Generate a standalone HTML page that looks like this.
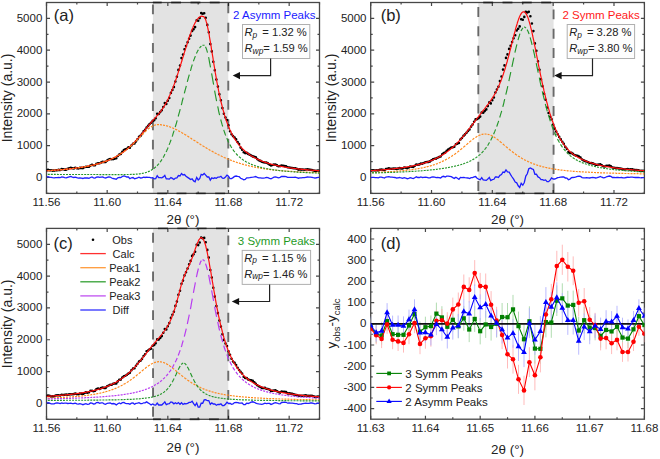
<!DOCTYPE html>
<html><head><meta charset="utf-8"><style>
html,body{margin:0;padding:0;background:#fff;width:660px;height:459px;overflow:hidden}
svg{display:block}
text{font-family:"Liberation Sans", sans-serif;fill:#222}
.tl{font-size:11.5px}
.at{font-size:13.4px}
.yl{font-size:14px}
.pl{font-size:16.5px}
.tt{font-size:11.5px}
.lg{font-size:11px}
.sub{font-size:9.5px}
.sub2{font-size:8.4px}
.rt{font-size:11.2px}
</style></head><body>
<svg width="660" height="459" viewBox="0 0 660 459">
<rect width="660" height="459" fill="#fff"/>
<rect x="152.9" y="2.5" width="75.4" height="190.9" fill="#e3e3e3"/>
<rect x="478.3" y="2.5" width="75.3" height="190.9" fill="#e3e3e3"/>
<rect x="153" y="228.4" width="75.3" height="190.9" fill="#e3e3e3"/>
<path d="M76.83 193.4v-2M76.83 2.5v2M137.5 193.4v-2M137.5 2.5v2M198.17 193.4v-2M198.17 2.5v2M258.83 193.4v-2M258.83 2.5v2M319.5 193.4v-2M319.5 2.5v2M46.5 193.4v-3.5M46.5 2.5v3.5M107.17 193.4v-3.5M107.17 2.5v3.5M167.83 193.4v-3.5M167.83 2.5v3.5M228.5 193.4v-3.5M228.5 2.5v3.5M289.17 193.4v-3.5M289.17 2.5v3.5M46.5 161.58h2M319.5 161.58h-2M46.5 129.77h2M319.5 129.77h-2M46.5 97.95h2M319.5 97.95h-2M46.5 66.13h2M319.5 66.13h-2M46.5 34.32h2M319.5 34.32h-2M46.5 193.4h2M319.5 193.4h-2M46.5 177.49h3.5M319.5 177.49h-3.5M46.5 145.68h3.5M319.5 145.68h-3.5M46.5 113.86h3.5M319.5 113.86h-3.5M46.5 82.04h3.5M319.5 82.04h-3.5M46.5 50.22h3.5M319.5 50.22h-3.5M46.5 18.41h3.5M319.5 18.41h-3.5" stroke="#474747" stroke-width="1.2" fill="none"/>
<rect x="46.5" y="2.5" width="273" height="190.9" stroke="#474747" stroke-width="1.3" fill="none"/>
<text x="46.5" y="206.3" text-anchor="middle" class="tl">11.56</text>
<text x="107.17" y="206.3" text-anchor="middle" class="tl">11.60</text>
<text x="167.83" y="206.3" text-anchor="middle" class="tl">11.64</text>
<text x="228.5" y="206.3" text-anchor="middle" class="tl">11.68</text>
<text x="289.17" y="206.3" text-anchor="middle" class="tl">11.72</text>
<text x="42.3" y="180.99" text-anchor="end" class="tl">0</text>
<text x="42.3" y="149.18" text-anchor="end" class="tl">1000</text>
<text x="42.3" y="117.36" text-anchor="end" class="tl">2000</text>
<text x="42.3" y="85.54" text-anchor="end" class="tl">3000</text>
<text x="42.3" y="53.72" text-anchor="end" class="tl">4000</text>
<text x="42.3" y="21.91" text-anchor="end" class="tl">5000</text>
<path d="M152.9 2.5H228.3V193.4H152.9Z" fill="none" stroke="#000" stroke-opacity="0.56" stroke-width="1.9" stroke-dasharray="9.9 9.43" stroke-dashoffset="1.1"/>
<path d="M401.11 193.4v-2M401.11 2.5v2M461.93 193.4v-2M461.93 2.5v2M522.76 193.4v-2M522.76 2.5v2M583.58 193.4v-2M583.58 2.5v2M644.4 193.4v-2M644.4 2.5v2M370.7 193.4v-3.5M370.7 2.5v3.5M431.52 193.4v-3.5M431.52 2.5v3.5M492.34 193.4v-3.5M492.34 2.5v3.5M553.17 193.4v-3.5M553.17 2.5v3.5M613.99 193.4v-3.5M613.99 2.5v3.5M370.7 161.58h2M644.4 161.58h-2M370.7 129.77h2M644.4 129.77h-2M370.7 97.95h2M644.4 97.95h-2M370.7 66.13h2M644.4 66.13h-2M370.7 34.32h2M644.4 34.32h-2M370.7 193.4h2M644.4 193.4h-2M370.7 177.49h3.5M644.4 177.49h-3.5M370.7 145.68h3.5M644.4 145.68h-3.5M370.7 113.86h3.5M644.4 113.86h-3.5M370.7 82.04h3.5M644.4 82.04h-3.5M370.7 50.22h3.5M644.4 50.22h-3.5M370.7 18.41h3.5M644.4 18.41h-3.5" stroke="#474747" stroke-width="1.2" fill="none"/>
<rect x="370.7" y="2.5" width="273.7" height="190.9" stroke="#474747" stroke-width="1.3" fill="none"/>
<text x="370.7" y="206.3" text-anchor="middle" class="tl">11.56</text>
<text x="431.52" y="206.3" text-anchor="middle" class="tl">11.60</text>
<text x="492.34" y="206.3" text-anchor="middle" class="tl">11.64</text>
<text x="553.17" y="206.3" text-anchor="middle" class="tl">11.68</text>
<text x="613.99" y="206.3" text-anchor="middle" class="tl">11.72</text>
<text x="366.5" y="180.99" text-anchor="end" class="tl">0</text>
<text x="366.5" y="149.18" text-anchor="end" class="tl">1000</text>
<text x="366.5" y="117.36" text-anchor="end" class="tl">2000</text>
<text x="366.5" y="85.54" text-anchor="end" class="tl">3000</text>
<text x="366.5" y="53.72" text-anchor="end" class="tl">4000</text>
<text x="366.5" y="21.91" text-anchor="end" class="tl">5000</text>
<path d="M478.3 193.4V2.5H553.6V193.4Z" fill="none" stroke="#000" stroke-opacity="0.56" stroke-width="1.9" stroke-dasharray="9.9 9.43" stroke-dashoffset="16.83"/>
<path d="M76.83 419.3v-2M76.83 228.4v2M137.5 419.3v-2M137.5 228.4v2M198.17 419.3v-2M198.17 228.4v2M258.83 419.3v-2M258.83 228.4v2M319.5 419.3v-2M319.5 228.4v2M46.5 419.3v-3.5M46.5 228.4v3.5M107.17 419.3v-3.5M107.17 228.4v3.5M167.83 419.3v-3.5M167.83 228.4v3.5M228.5 419.3v-3.5M228.5 228.4v3.5M289.17 419.3v-3.5M289.17 228.4v3.5M46.5 387.48h2M319.5 387.48h-2M46.5 355.67h2M319.5 355.67h-2M46.5 323.85h2M319.5 323.85h-2M46.5 292.03h2M319.5 292.03h-2M46.5 260.22h2M319.5 260.22h-2M46.5 419.3h2M319.5 419.3h-2M46.5 403.39h3.5M319.5 403.39h-3.5M46.5 371.57h3.5M319.5 371.57h-3.5M46.5 339.76h3.5M319.5 339.76h-3.5M46.5 307.94h3.5M319.5 307.94h-3.5M46.5 276.12h3.5M319.5 276.12h-3.5M46.5 244.31h3.5M319.5 244.31h-3.5" stroke="#474747" stroke-width="1.2" fill="none"/>
<rect x="46.5" y="228.4" width="273" height="190.9" stroke="#474747" stroke-width="1.3" fill="none"/>
<text x="46.5" y="432.2" text-anchor="middle" class="tl">11.56</text>
<text x="107.17" y="432.2" text-anchor="middle" class="tl">11.60</text>
<text x="167.83" y="432.2" text-anchor="middle" class="tl">11.64</text>
<text x="228.5" y="432.2" text-anchor="middle" class="tl">11.68</text>
<text x="289.17" y="432.2" text-anchor="middle" class="tl">11.72</text>
<text x="42.3" y="406.89" text-anchor="end" class="tl">0</text>
<text x="42.3" y="375.07" text-anchor="end" class="tl">1000</text>
<text x="42.3" y="343.26" text-anchor="end" class="tl">2000</text>
<text x="42.3" y="311.44" text-anchor="end" class="tl">3000</text>
<text x="42.3" y="279.62" text-anchor="end" class="tl">4000</text>
<text x="42.3" y="247.81" text-anchor="end" class="tl">5000</text>
<path d="M153 419.3V228.4H228.3V419.3Z" fill="none" stroke="#000" stroke-opacity="0.56" stroke-width="1.9" stroke-dasharray="9.9 9.43" stroke-dashoffset="16.73"/>
<clipPath id="clipa"><rect x="46.5" y="2.5" width="273.0" height="190.9"/></clipPath>
<clipPath id="clipb"><rect x="370.7" y="2.5" width="273.7" height="190.9"/></clipPath>
<clipPath id="clipc"><rect x="46.5" y="228.4" width="273.0" height="190.9"/></clipPath>
<g clip-path="url(#clipa)">
<path d="M46.5 177.2 48.0 176.7 49.5 177.1 51.1 177.4 52.6 177.7 54.1 177.8 55.6 177.6 57.1 177.6 58.6 177.5 60.2 177.7 61.7 176.9 63.2 177.2 64.7 177.7 66.2 177.8 67.7 177.3 69.2 176.8 70.8 176.5 72.3 177.2 73.8 177.5 75.3 177.1 76.8 177.7 78.3 178.1 79.9 177.8 81.4 178.1 82.9 178.5 84.4 178.0 85.9 177.8 87.4 178.0 89.0 178.4 90.5 177.5 92.0 177.0 93.5 177.8 95.0 178.1 96.5 177.1 98.1 176.9 99.6 177.4 101.1 177.1 102.6 177.0 104.1 177.6 105.6 178.0 107.2 177.3 108.7 176.8 110.2 177.0 111.7 178.0 113.2 178.5 114.8 178.8 116.3 179.2 117.8 177.8 119.3 177.3 120.8 177.6 122.3 176.5 123.9 175.9 125.4 176.3 126.9 177.0 128.4 177.0 129.9 178.7 131.4 177.8 133.0 177.5 134.5 178.8 136.0 178.3 137.5 177.8 139.0 177.2 140.5 178.0 142.0 177.8 143.6 177.1 145.1 177.5 146.6 177.1 148.1 177.3 149.6 177.3 151.1 177.8 152.7 177.7 154.2 178.8 155.7 178.6 157.2 175.8 158.7 177.7 160.2 177.7 161.8 177.8 163.3 176.9 164.8 175.4 166.3 178.9 167.8 178.8 169.3 179.1 170.9 177.6 172.4 178.4 173.9 179.5 175.4 178.1 176.9 177.8 178.4 175.6 180.0 176.0 181.5 173.5 183.0 175.0 184.5 174.6 186.0 176.3 187.6 177.4 189.1 178.4 190.6 179.6 192.1 178.9 193.6 180.9 195.1 181.8 196.7 177.4 198.2 179.9 199.7 178.6 201.2 174.3 202.7 175.0 204.2 173.5 205.7 175.1 207.3 177.0 208.8 177.0 210.3 180.1 211.8 177.9 213.3 178.6 214.8 177.8 216.4 178.3 217.9 177.1 219.4 177.2 220.9 176.3 222.4 178.1 223.9 178.3 225.5 177.0 227.0 175.2 228.5 176.3 230.0 178.7 231.5 178.6 233.0 177.6 234.6 176.4 236.1 176.0 237.6 176.4 239.1 176.6 240.6 178.3 242.1 178.8 243.7 179.8 245.2 179.4 246.7 177.9 248.2 177.8 249.7 177.6 251.2 177.3 252.8 177.2 254.3 176.9 255.8 176.5 257.3 177.5 258.8 177.9 260.4 177.9 261.9 178.1 263.4 178.1 264.9 177.8 266.4 177.4 267.9 177.7 269.5 178.4 271.0 178.9 272.5 178.0 274.0 177.2 275.5 176.9 277.0 177.3 278.5 177.8 280.1 177.4 281.6 176.5 283.1 176.4 284.6 176.5 286.1 176.6 287.6 177.3 289.2 177.3 290.7 177.3 292.2 177.3 293.7 177.3 295.2 177.2 296.7 177.5 298.3 178.2 299.8 177.8 301.3 177.8 302.8 177.6 304.3 177.6 305.8 177.3 307.4 177.0 308.9 177.1 310.4 177.1 311.9 177.3 313.4 177.7 314.9 178.0 316.5 177.8 318.0 177.4 319.5 177.4" fill="none" stroke="#1e1eff" stroke-width="1.3"/>
<path d="M46.5 170.4h0M48.0 169.9h0M49.5 170.2h0M51.1 170.3h0M52.6 170.6h0M54.1 170.6h0M55.6 170.3h0M57.1 170.2h0M58.6 169.9h0M60.2 170.0h0M61.7 169.1h0M63.2 169.2h0M64.7 169.6h0M66.2 169.6h0M67.7 168.9h0M69.2 168.2h0M70.8 167.8h0M72.3 168.2h0M73.8 168.4h0M75.3 167.8h0M76.8 168.2h0M78.3 168.4h0M79.9 167.9h0M81.4 167.9h0M82.9 168.1h0M84.4 167.3h0M85.9 166.8h0M87.4 166.8h0M89.0 166.8h0M90.5 165.6h0M92.0 164.8h0M93.5 165.3h0M95.0 165.2h0M96.5 163.8h0M98.1 163.2h0M99.6 163.3h0M101.1 162.5h0M102.6 161.9h0M104.1 162.0h0M105.6 161.9h0M107.2 160.6h0M108.7 159.5h0M110.2 159.0h0M111.7 159.3h0M113.2 159.1h0M114.8 158.6h0M116.3 158.2h0M117.8 156.0h0M119.3 154.5h0M120.8 153.9h0M122.3 151.7h0M123.9 150.0h0M125.4 149.2h0M126.9 148.7h0M128.4 147.4h0M129.9 147.8h0M131.4 145.5h0M133.0 143.7h0M134.5 143.4h0M136.0 141.4h0M137.5 139.2h0M139.0 136.9h0M140.5 135.9h0M142.0 133.9h0M143.6 131.3h0M145.1 129.8h0M146.6 127.6h0M148.1 125.9h0M149.6 124.1h0M151.1 122.8h0M152.7 120.9h0M154.2 120.2h0M155.7 118.3h0M157.2 113.8h0M158.7 114.0h0M160.2 112.1h0M161.8 110.3h0M163.3 107.0h0M164.8 103.1h0M166.3 103.9h0M167.8 100.8h0M169.3 98.0h0M170.9 92.9h0M172.4 90.0h0M173.9 87.1h0M175.4 81.5h0M176.9 76.7h0M178.4 69.9h0M180.0 65.5h0M181.5 58.1h0M183.0 54.6h0M184.5 49.2h0M186.0 46.0h0M187.6 42.3h0M189.1 38.7h0M190.6 35.6h0M192.1 30.9h0M193.6 29.3h0M195.1 27.1h0M196.7 20.2h0M198.2 20.7h0M199.7 18.1h0M201.2 13.1h0M202.7 13.8h0M204.2 13.2h0M205.7 17.7h0M207.3 24.9h0M208.8 32.3h0M210.3 44.1h0M211.8 51.4h0M213.3 61.7h0M214.8 70.2h0M216.4 79.6h0M217.9 86.6h0M219.4 94.3h0M220.9 100.2h0M222.4 108.1h0M223.9 113.8h0M225.5 117.5h0M227.0 120.1h0M228.5 125.3h0M230.0 131.2h0M231.5 134.2h0M233.0 136.1h0M234.6 137.5h0M236.1 139.4h0M237.6 142.0h0M239.1 144.1h0M240.6 147.6h0M242.1 149.7h0M243.7 152.2h0M245.2 153.1h0M246.7 152.9h0M248.2 153.9h0M249.7 154.8h0M251.2 155.5h0M252.8 156.4h0M254.3 156.9h0M255.8 157.3h0M257.3 159.1h0M258.8 160.2h0M260.4 160.9h0M261.9 161.7h0M263.4 162.3h0M264.9 162.5h0M266.4 162.6h0M267.9 163.4h0M269.5 164.6h0M271.0 165.5h0M272.5 165.0h0M274.0 164.5h0M275.5 164.6h0M277.0 165.4h0M278.5 166.2h0M280.1 166.1h0M281.6 165.6h0M283.1 165.7h0M284.6 166.1h0M286.1 166.4h0M287.6 167.3h0M289.2 167.5h0M290.7 167.8h0M292.2 168.0h0M293.7 168.2h0M295.2 168.2h0M296.7 168.7h0M298.3 169.6h0M299.8 169.4h0M301.3 169.6h0M302.8 169.5h0M304.3 169.7h0M305.8 169.5h0M307.4 169.3h0M308.9 169.6h0M310.4 169.7h0M311.9 170.0h0M313.4 170.5h0M314.9 170.9h0M316.5 170.8h0M318.0 170.5h0M319.5 170.7h0" stroke="#000" stroke-width="2.6" stroke-linecap="round"/>
<path d="M46.5 170.8 46.9 170.7 47.3 170.7 47.6 170.7 48.0 170.7 48.4 170.6 48.8 170.6 49.2 170.6 49.5 170.6 49.9 170.6 50.3 170.5 50.7 170.5 51.1 170.5 51.4 170.5 51.8 170.4 52.2 170.4 52.6 170.4 52.9 170.3 53.3 170.3 53.7 170.3 54.1 170.3 54.5 170.2 54.8 170.2 55.2 170.2 55.6 170.2 56.0 170.1 56.4 170.1 56.7 170.1 57.1 170.0 57.5 170.0 57.9 170.0 58.3 170.0 58.6 169.9 59.0 169.9 59.4 169.9 59.8 169.8 60.2 169.8 60.5 169.8 60.9 169.7 61.3 169.7 61.7 169.7 62.0 169.6 62.4 169.6 62.8 169.6 63.2 169.5 63.6 169.5 63.9 169.5 64.3 169.4 64.7 169.4 65.1 169.4 65.5 169.3 65.8 169.3 66.2 169.2 66.6 169.2 67.0 169.2 67.4 169.1 67.7 169.1 68.1 169.1 68.5 169.0 68.9 169.0 69.3 168.9 69.6 168.9 70.0 168.8 70.4 168.8 70.8 168.8 71.1 168.7 71.5 168.7 71.9 168.6 72.3 168.6 72.7 168.5 73.0 168.5 73.4 168.4 73.8 168.4 74.2 168.4 74.6 168.3 74.9 168.3 75.3 168.2 75.7 168.2 76.1 168.1 76.5 168.1 76.8 168.0 77.2 167.9 77.6 167.9 78.0 167.8 78.4 167.8 78.7 167.7 79.1 167.7 79.5 167.6 79.9 167.6 80.2 167.5 80.6 167.4 81.0 167.4 81.4 167.3 81.8 167.3 82.1 167.2 82.5 167.1 82.9 167.1 83.3 167.0 83.7 167.0 84.0 166.9 84.4 166.8 84.8 166.8 85.2 166.7 85.6 166.6 85.9 166.6 86.3 166.5 86.7 166.4 87.1 166.3 87.4 166.3 87.8 166.2 88.2 166.1 88.6 166.0 89.0 166.0 89.3 165.9 89.7 165.8 90.1 165.7 90.5 165.7 90.9 165.6 91.2 165.5 91.6 165.4 92.0 165.3 92.4 165.2 92.8 165.1 93.1 165.1 93.5 165.0 93.9 164.9 94.3 164.8 94.7 164.7 95.0 164.6 95.4 164.5 95.8 164.4 96.2 164.3 96.5 164.2 96.9 164.1 97.3 164.0 97.7 163.9 98.1 163.8 98.4 163.7 98.8 163.6 99.2 163.5 99.6 163.4 100.0 163.2 100.3 163.1 100.7 163.0 101.1 162.9 101.5 162.8 101.9 162.7 102.2 162.5 102.6 162.4 103.0 162.3 103.4 162.2 103.8 162.0 104.1 161.9 104.5 161.8 104.9 161.6 105.3 161.5 105.6 161.3 106.0 161.2 106.4 161.1 106.8 160.9 107.2 160.8 107.5 160.6 107.9 160.5 108.3 160.3 108.7 160.2 109.1 160.0 109.4 159.8 109.8 159.7 110.2 159.5 110.6 159.3 111.0 159.2 111.3 159.0 111.7 158.8 112.1 158.6 112.5 158.5 112.9 158.3 113.2 158.1 113.6 157.9 114.0 157.7 114.4 157.5 114.8 157.3 115.1 157.1 115.5 156.9 115.9 156.7 116.3 156.5 116.6 156.3 117.0 156.1 117.4 155.9 117.8 155.6 118.2 155.4 118.5 155.2 118.9 155.0 119.3 154.7 119.7 154.5 120.1 154.2 120.4 154.0 120.8 153.7 121.2 153.5 121.6 153.2 122.0 153.0 122.3 152.7 122.7 152.4 123.1 152.2 123.5 151.9 123.9 151.6 124.2 151.3 124.6 151.1 125.0 150.8 125.4 150.5 125.7 150.2 126.1 149.9 126.5 149.6 126.9 149.3 127.3 148.9 127.6 148.6 128.0 148.3 128.4 148.0 128.8 147.7 129.2 147.3 129.5 147.0 129.9 146.6 130.3 146.3 130.7 145.9 131.1 145.6 131.4 145.2 131.8 144.9 132.2 144.5 132.6 144.1 133.0 143.7 133.3 143.4 133.7 143.0 134.1 142.6 134.5 142.2 134.8 141.8 135.2 141.4 135.6 141.0 136.0 140.6 136.4 140.2 136.7 139.7 137.1 139.3 137.5 138.9 137.9 138.5 138.3 138.0 138.6 137.6 139.0 137.2 139.4 136.7 139.8 136.3 140.2 135.8 140.5 135.4 140.9 134.9 141.3 134.5 141.7 134.0 142.1 133.6 142.4 133.1 142.8 132.7 143.2 132.2 143.6 131.7 143.9 131.3 144.3 130.8 144.7 130.3 145.1 129.9 145.5 129.4 145.8 128.9 146.2 128.5 146.6 128.0 147.0 127.5 147.4 127.1 147.7 126.6 148.1 126.1 148.5 125.7 148.9 125.2 149.3 124.7 149.6 124.3 150.0 123.8 150.4 123.4 150.8 122.9 151.1 122.4 151.5 122.0 151.9 121.5 152.3 121.1 152.7 120.7 153.0 120.2 153.4 119.8 153.8 119.3 154.2 118.9 154.6 118.5 154.9 118.0 155.3 117.6 155.7 117.2 156.1 116.8 156.5 116.3 156.8 115.9 157.2 115.5 157.6 115.1 158.0 114.7 158.4 114.2 158.7 113.8 159.1 113.4 159.5 112.9 159.9 112.4 160.2 111.9 160.6 111.5 161.0 111.0 161.4 110.4 161.8 109.9 162.1 109.4 162.5 108.8 162.9 108.2 163.3 107.7 163.7 107.1 164.0 106.5 164.4 105.8 164.8 105.2 165.2 104.5 165.6 103.9 165.9 103.2 166.3 102.5 166.7 101.8 167.1 101.0 167.5 100.3 167.8 99.5 168.2 98.8 168.6 98.0 169.0 97.1 169.3 96.3 169.7 95.5 170.1 94.6 170.5 93.7 170.9 92.8 171.2 91.9 171.6 91.0 172.0 90.1 172.4 89.1 172.8 88.1 173.1 87.1 173.5 86.1 173.9 85.1 174.3 84.1 174.7 83.0 175.0 81.9 175.4 80.9 175.8 79.8 176.2 78.7 176.6 77.5 176.9 76.4 177.3 75.3 177.7 74.1 178.1 72.9 178.4 71.7 178.8 70.6 179.2 69.4 179.6 68.2 180.0 66.9 180.3 65.7 180.7 64.5 181.1 63.3 181.5 62.0 181.9 60.8 182.2 59.6 182.6 58.3 183.0 57.1 183.4 55.8 183.8 54.6 184.1 53.3 184.5 52.1 184.9 50.8 185.3 49.6 185.7 48.4 186.0 47.2 186.4 46.0 186.8 44.8 187.2 43.6 187.6 42.4 187.9 41.2 188.3 40.1 188.7 38.9 189.1 37.8 189.4 36.7 189.8 35.6 190.2 34.5 190.6 33.5 191.0 32.4 191.3 31.4 191.7 30.5 192.1 29.5 192.5 28.6 192.9 27.7 193.2 26.8 193.6 25.9 194.0 25.1 194.4 24.3 194.8 23.6 195.1 22.8 195.5 22.1 195.9 21.5 196.3 20.9 196.7 20.3 197.0 19.7 197.4 19.2 197.8 18.7 198.2 18.3 198.5 17.9 198.9 17.5 199.3 17.2 199.7 17.0 200.1 16.7 200.4 16.5 200.8 16.4 201.2 16.3 201.6 16.2 202.0 16.2 202.3 16.3 202.7 16.3 203.1 16.5 203.5 16.6 203.9 16.8 204.2 17.1 204.6 17.6 205.0 18.3 205.4 19.1 205.8 20.1 206.1 21.2 206.5 22.5 206.9 23.9 207.3 25.5 207.6 27.2 208.0 29.0 208.4 30.9 208.8 32.9 209.2 34.9 209.5 37.1 209.9 39.3 210.3 41.6 210.7 43.9 211.1 46.2 211.4 48.6 211.8 51.0 212.2 53.4 212.6 55.8 213.0 58.2 213.3 60.5 213.7 62.9 214.1 65.3 214.5 67.6 214.9 69.9 215.2 72.2 215.6 74.4 216.0 76.6 216.4 78.8 216.7 80.9 217.1 83.0 217.5 85.0 217.9 87.0 218.3 89.0 218.6 90.9 219.0 92.7 219.4 94.5 219.8 96.3 220.2 98.0 220.5 99.7 220.9 101.4 221.3 103.0 221.7 104.5 222.1 106.1 222.4 107.5 222.8 109.0 223.2 110.4 223.6 111.7 223.9 113.1 224.3 114.4 224.7 115.6 225.1 116.8 225.5 118.0 225.8 119.2 226.2 120.3 226.6 121.4 227.0 122.5 227.4 123.5 227.7 124.5 228.1 125.5 228.5 126.4 228.9 127.3 229.3 128.2 229.6 129.1 230.0 130.0 230.4 130.8 230.8 131.6 231.2 132.4 231.5 133.2 231.9 133.9 232.3 134.6 232.7 135.3 233.0 136.0 233.4 136.7 233.8 137.4 234.2 138.0 234.6 138.6 234.9 139.2 235.3 139.8 235.7 140.4 236.1 141.0 236.5 141.5 236.8 142.0 237.2 142.6 237.6 143.1 238.0 143.6 238.4 144.1 238.7 144.5 239.1 145.0 239.5 145.5 239.9 145.9 240.3 146.3 240.6 146.8 241.0 147.2 241.4 147.6 241.8 148.0 242.1 148.4 242.5 148.8 242.9 149.1 243.3 149.5 243.7 149.8 244.0 150.2 244.4 150.5 244.8 150.9 245.2 151.2 245.6 151.5 245.9 151.9 246.3 152.2 246.7 152.5 247.1 152.8 247.5 153.1 247.8 153.3 248.2 153.6 248.6 153.9 249.0 154.2 249.4 154.4 249.7 154.7 250.1 155.0 250.5 155.2 250.9 155.5 251.2 155.7 251.6 155.9 252.0 156.2 252.4 156.4 252.8 156.6 253.1 156.9 253.5 157.1 253.9 157.3 254.3 157.5 254.7 157.7 255.0 157.9 255.4 158.1 255.8 158.3 256.2 158.5 256.6 158.7 256.9 158.9 257.3 159.1 257.7 159.2 258.1 159.4 258.5 159.6 258.8 159.8 259.2 159.9 259.6 160.1 260.0 160.3 260.4 160.4 260.7 160.6 261.1 160.7 261.5 160.9 261.9 161.1 262.2 161.2 262.6 161.4 263.0 161.5 263.4 161.6 263.8 161.8 264.1 161.9 264.5 162.1 264.9 162.2 265.3 162.3 265.7 162.4 266.0 162.6 266.4 162.7 266.8 162.8 267.2 162.9 267.6 163.1 267.9 163.2 268.3 163.3 268.7 163.4 269.1 163.5 269.5 163.6 269.8 163.8 270.2 163.9 270.6 164.0 271.0 164.1 271.3 164.2 271.7 164.3 272.1 164.4 272.5 164.5 272.9 164.6 273.2 164.7 273.6 164.8 274.0 164.9 274.4 165.0 274.8 165.1 275.1 165.1 275.5 165.2 275.9 165.3 276.3 165.4 276.7 165.5 277.0 165.6 277.4 165.7 277.8 165.7 278.2 165.8 278.6 165.9 278.9 166.0 279.3 166.1 279.7 166.1 280.1 166.2 280.4 166.3 280.8 166.4 281.2 166.4 281.6 166.5 282.0 166.6 282.3 166.6 282.7 166.7 283.1 166.8 283.5 166.9 283.9 166.9 284.2 167.0 284.6 167.1 285.0 167.1 285.4 167.2 285.8 167.2 286.1 167.3 286.5 167.4 286.9 167.4 287.3 167.5 287.6 167.5 288.0 167.6 288.4 167.7 288.8 167.7 289.2 167.8 289.5 167.8 289.9 167.9 290.3 167.9 290.7 168.0 291.1 168.0 291.4 168.1 291.8 168.1 292.2 168.2 292.6 168.2 293.0 168.3 293.3 168.3 293.7 168.4 294.1 168.4 294.5 168.5 294.9 168.5 295.2 168.6 295.6 168.6 296.0 168.7 296.4 168.7 296.7 168.8 297.1 168.8 297.5 168.8 297.9 168.9 298.3 168.9 298.6 169.0 299.0 169.0 299.4 169.1 299.8 169.1 300.2 169.1 300.5 169.2 300.9 169.2 301.3 169.3 301.7 169.3 302.1 169.3 302.4 169.4 302.8 169.4 303.2 169.4 303.6 169.5 304.0 169.5 304.3 169.5 304.7 169.6 305.1 169.6 305.5 169.7 305.8 169.7 306.2 169.7 306.6 169.8 307.0 169.8 307.4 169.8 307.7 169.9 308.1 169.9 308.5 169.9 308.9 170.0 309.3 170.0 309.6 170.0 310.0 170.0 310.4 170.1 310.8 170.1 311.2 170.1 311.5 170.2 311.9 170.2 312.3 170.2 312.7 170.3 313.1 170.3 313.4 170.3 313.8 170.3 314.2 170.4 314.6 170.4 314.9 170.4 315.3 170.4 315.7 170.5 316.1 170.5 316.5 170.5 316.8 170.6 317.2 170.6 317.6 170.6 318.0 170.6 318.4 170.7 318.7 170.7 319.1 170.7 319.5 170.7" fill="none" stroke="#ff0f0f" stroke-width="1.2"/>
<path d="M47.8 170.7L48.3 170.7L48.8 170.6L49.3 170.6L49.8 170.6M50.8 170.5L51.3 170.5L51.8 170.4L52.3 170.4L52.8 170.4M53.9 170.3L54.4 170.2L54.8 170.2L55.3 170.2L55.8 170.1M56.9 170.1L57.4 170.0L57.9 170.0L58.4 169.9L58.9 169.9M59.9 169.8L60.4 169.8L60.9 169.7L61.4 169.7L61.9 169.6M63.0 169.6L63.5 169.5L63.9 169.5L64.4 169.4L64.9 169.4M66.0 169.3L66.5 169.2L67.0 169.2L67.5 169.1L68.0 169.1M69.0 169.0L69.5 168.9L70.0 168.8L70.5 168.8L71.0 168.7M72.1 168.6L72.6 168.6L73.0 168.5L73.5 168.4L74.0 168.4M75.1 168.2L75.6 168.2L76.1 168.1L76.6 168.0L77.1 168.0M78.1 167.8L78.6 167.7L79.1 167.7L79.6 167.6L80.1 167.5M81.2 167.4L81.7 167.3L82.1 167.2L82.6 167.1L83.1 167.0M84.2 166.9L84.7 166.8L85.2 166.7L85.7 166.6L86.2 166.5M87.2 166.3L87.7 166.2L88.2 166.1L88.7 166.0L89.2 165.9M90.3 165.7L90.8 165.6L91.2 165.5L91.7 165.4L92.2 165.3M93.3 165.0L93.8 164.9L94.3 164.8L94.8 164.7L95.3 164.5M96.3 164.3L96.8 164.1L97.3 164.0L97.8 163.9L98.3 163.7M99.4 163.4L99.9 163.3L100.3 163.1L100.8 163.0L101.3 162.8M102.4 162.5L102.9 162.3L103.4 162.1L103.9 162.0L104.4 161.8M105.4 161.4L105.9 161.2L106.4 161.1L106.9 160.9L107.4 160.7M108.5 160.2L109.0 160.0L109.4 159.8L109.9 159.6L110.4 159.4M111.5 158.9L112.0 158.7L112.5 158.5L113.0 158.2L113.5 158.0M114.5 157.4L115.0 157.2L115.5 156.9L116.0 156.7L116.5 156.4M117.6 155.8L118.1 155.5L118.5 155.2L119.0 154.9L119.5 154.6M120.6 153.9L121.1 153.6L121.6 153.3L122.1 152.9L122.6 152.6M123.6 151.8L124.1 151.5L124.6 151.1L125.1 150.7L125.6 150.4M126.7 149.5L127.2 149.1L127.6 148.7L128.1 148.3L128.6 147.9M129.7 147.0L130.2 146.6L130.7 146.1L131.2 145.7L131.7 145.2M132.7 144.2L133.2 143.8L133.7 143.3L134.2 142.8L134.7 142.3M135.8 141.3L136.3 140.8L136.7 140.3L137.2 139.8L137.7 139.3M138.8 138.2L139.3 137.7L139.8 137.2L140.3 136.6L140.8 136.1M141.8 135.0L142.3 134.5L142.8 134.0L143.3 133.5L143.8 133.0M144.9 132.0L145.4 131.5L145.8 131.1L146.3 130.6L146.8 130.2M147.9 129.2L148.4 128.8L148.9 128.4L149.4 128.1L149.9 127.7M150.9 127.0L151.4 126.7L151.9 126.4L152.4 126.1L152.9 125.9M154.0 125.4L154.5 125.2L154.9 125.1L155.4 124.9L155.9 124.8M157.0 124.7L157.5 124.6L158.0 124.6L158.5 124.6L159.0 124.7M160.0 124.7L160.5 124.7L161.0 124.8L161.5 124.9L162.0 124.9M163.1 125.1L163.6 125.2L164.0 125.3L164.5 125.4L165.0 125.5M166.1 125.7L166.6 125.8L167.1 126.0L167.6 126.1L168.1 126.3M169.1 126.6L169.6 126.8L170.1 127.0L170.6 127.2L171.1 127.3M172.2 127.8L172.7 128.0L173.1 128.2L173.6 128.4L174.1 128.6M175.2 129.1L175.7 129.4L176.2 129.6L176.7 129.8L177.2 130.1M178.2 130.7L178.7 130.9L179.2 131.2L179.7 131.5L180.2 131.7M181.3 132.3L181.8 132.6L182.2 132.9L182.7 133.2L183.2 133.5M184.3 134.1L184.8 134.4L185.3 134.7L185.8 135.0L186.3 135.3M187.3 136.0L187.8 136.3L188.3 136.6L188.8 136.9L189.3 137.2M190.4 137.9L190.9 138.2L191.3 138.5L191.8 138.9L192.3 139.2M193.4 139.9L193.9 140.2L194.4 140.5L194.9 140.8L195.4 141.1M196.4 141.8L196.9 142.1L197.4 142.4L197.9 142.7L198.4 143.1M199.5 143.7L200.0 144.1L200.4 144.4L200.9 144.7L201.4 145.0M202.5 145.6L203.0 146.0L203.5 146.3L204.0 146.6L204.5 146.9M205.5 147.5L206.0 147.8L206.5 148.1L207.0 148.4L207.5 148.7M208.6 149.3L209.1 149.6L209.5 149.9L210.0 150.2L210.5 150.4M211.6 151.0L212.1 151.3L212.6 151.6L213.1 151.9L213.6 152.1M214.6 152.7L215.1 153.0L215.6 153.2L216.1 153.5L216.6 153.8M217.7 154.3L218.2 154.6L218.6 154.8L219.1 155.0L219.6 155.3M220.7 155.8L221.2 156.0L221.7 156.3L222.2 156.5L222.7 156.7M223.7 157.2L224.2 157.5L224.7 157.7L225.2 157.9L225.7 158.1M226.8 158.6L227.3 158.8L227.7 159.0L228.2 159.2L228.7 159.4M229.8 159.8L230.3 160.0L230.8 160.2L231.3 160.4L231.8 160.6M232.8 161.0L233.3 161.2L233.8 161.3L234.3 161.5L234.8 161.7M235.9 162.1L236.4 162.2L236.8 162.4L237.3 162.6L237.8 162.7M238.9 163.1L239.4 163.2L239.9 163.4L240.4 163.5L240.9 163.7M241.9 164.0L242.4 164.1L242.9 164.3L243.4 164.4L243.9 164.6M245.0 164.8L245.5 165.0L245.9 165.1L246.4 165.2L246.9 165.4M248.0 165.6L248.5 165.7L249.0 165.9L249.5 166.0L250.0 166.1M251.0 166.3L251.5 166.4L252.0 166.5L252.5 166.7L253.0 166.8M254.1 167.0L254.6 167.1L255.0 167.2L255.5 167.3L256.0 167.4M257.1 167.6L257.6 167.7L258.1 167.7L258.6 167.8L259.1 167.9M260.1 168.1L260.6 168.2L261.1 168.3L261.6 168.3L262.1 168.4M263.2 168.6L263.7 168.7L264.1 168.7L264.6 168.8L265.1 168.9M266.2 169.0L266.7 169.1L267.2 169.2L267.7 169.2L268.2 169.3M269.2 169.4L269.7 169.5L270.2 169.6L270.7 169.6L271.2 169.7M272.3 169.8L272.8 169.8L273.2 169.9L273.7 170.0L274.2 170.0M275.3 170.1L275.8 170.2L276.3 170.2L276.8 170.3L277.3 170.3M278.3 170.4L278.8 170.5L279.3 170.5L279.8 170.6L280.3 170.6M281.4 170.7L281.9 170.7L282.3 170.8L282.8 170.8L283.3 170.8M284.4 170.9L284.9 171.0L285.4 171.0L285.9 171.0L286.4 171.1M287.4 171.2L287.9 171.2L288.4 171.2L288.9 171.3L289.4 171.3M290.5 171.4L291.0 171.4L291.4 171.4L291.9 171.4L292.4 171.5M293.5 171.5L294.0 171.6L294.5 171.6L295.0 171.6L295.5 171.7M296.5 171.7L297.0 171.7L297.5 171.8L298.0 171.8L298.5 171.8M299.6 171.9L300.1 171.9L300.5 171.9L301.0 171.9L301.5 172.0M302.6 172.0L303.1 172.0L303.6 172.1L304.1 172.1L304.6 172.1M305.6 172.2L306.1 172.2L306.6 172.2L307.1 172.2L307.6 172.2M308.7 172.3L309.2 172.3L309.6 172.3L310.1 172.3L310.6 172.4M311.7 172.4L312.2 172.4L312.7 172.4L313.2 172.4L313.7 172.5M314.7 172.5L315.2 172.5L315.7 172.5L316.2 172.6L316.7 172.6M317.8 172.6L318.2 172.6L318.6 172.6L319.1 172.6L319.5 172.7" fill="none" stroke="#ff8a1e" stroke-width="1.2"/>
<path d="M47.8 174.4L48.3 174.4L48.8 174.4L49.3 174.4L49.8 174.4M50.8 174.4L51.3 174.4L51.8 174.4L52.3 174.4L52.8 174.4M53.9 174.4L54.4 174.4L54.8 174.4L55.3 174.4L55.8 174.4M56.9 174.4L57.4 174.4L57.9 174.5L58.4 174.5L58.9 174.5M59.9 174.5L60.4 174.5L60.9 174.5L61.4 174.5L61.9 174.5M63.0 174.5L63.5 174.5L63.9 174.5L64.4 174.5L64.9 174.5M66.0 174.5L66.5 174.5L67.0 174.5L67.5 174.5L68.0 174.5M69.0 174.5L69.5 174.5L70.0 174.5L70.5 174.5L71.0 174.5M72.1 174.5L72.6 174.5L73.0 174.5L73.5 174.5L74.0 174.5M75.1 174.5L75.6 174.5L76.1 174.5L76.6 174.5L77.1 174.5M78.1 174.5L78.6 174.5L79.1 174.5L79.6 174.5L80.1 174.5M81.2 174.5L81.7 174.5L82.1 174.5L82.6 174.5L83.1 174.5M84.2 174.5L84.7 174.5L85.2 174.5L85.7 174.5L86.2 174.5M87.2 174.5L87.7 174.5L88.2 174.5L88.7 174.5L89.2 174.5M90.3 174.5L90.8 174.5L91.2 174.5L91.7 174.5L92.2 174.5M93.3 174.5L93.8 174.5L94.3 174.5L94.8 174.5L95.3 174.5M96.3 174.5L96.8 174.5L97.3 174.5L97.8 174.5L98.3 174.5M99.4 174.6L99.9 174.6L100.3 174.6L100.8 174.6L101.3 174.6M102.4 174.6L102.9 174.6L103.4 174.6L103.9 174.6L104.4 174.6M105.4 174.6L105.9 174.6L106.4 174.6L106.9 174.6L107.4 174.6M108.5 174.6L109.0 174.6L109.4 174.6L109.9 174.6L110.4 174.6M111.5 174.6L112.0 174.6L112.5 174.6L113.0 174.6L113.5 174.6M114.5 174.6L115.0 174.6L115.5 174.6L116.0 174.6L116.5 174.6M117.6 174.6L118.1 174.6L118.5 174.6L119.0 174.6L119.5 174.6M120.6 174.6L121.1 174.6L121.6 174.6L122.1 174.6L122.6 174.6M123.6 174.6L124.1 174.6L124.6 174.6L125.1 174.5L125.6 174.5M126.7 174.5L127.2 174.5L127.6 174.5L128.1 174.5L128.6 174.5M129.7 174.5L130.2 174.5L130.7 174.4L131.2 174.4L131.7 174.4M132.7 174.4L133.2 174.3L133.7 174.3L134.2 174.3L134.7 174.3M135.8 174.2L136.3 174.1L136.7 174.1L137.2 174.1L137.7 174.0M138.8 173.9L139.3 173.8L139.8 173.8L140.3 173.7L140.8 173.6M141.8 173.5L142.3 173.4L142.8 173.3L143.3 173.2L143.8 173.1M144.9 172.8L145.4 172.7L145.8 172.5L146.3 172.4L146.8 172.2M147.9 171.8L148.4 171.6L148.9 171.4L149.4 171.2L149.9 171.0M150.9 170.4L151.4 170.1L151.9 169.8L152.4 169.5L152.9 169.2M154.0 168.4L154.5 168.1L154.9 167.7L155.4 167.2L155.9 166.8M157.0 165.8L157.5 165.3L158.0 164.7L158.5 164.2L159.0 163.6M160.0 162.2L160.5 161.6L161.0 160.9L161.5 160.1L162.0 159.4M163.1 157.6L163.6 156.8L164.0 155.9L164.5 155.0L165.0 154.1M166.1 151.9L166.6 150.9L167.1 149.8L167.6 148.7L168.1 147.5M169.1 144.9L169.6 143.6L170.1 142.4L170.6 141.0L171.1 139.7M172.2 136.6L172.7 135.2L173.1 133.7L173.6 132.1L174.1 130.6M175.2 127.1L175.7 125.5L176.2 123.8L176.7 122.1L177.2 120.3M178.2 116.5L178.7 114.7L179.2 112.9L179.7 111.1L180.2 109.2M181.3 105.2L181.8 103.3L182.2 101.4L182.7 99.5L183.2 97.6M184.3 93.4L184.8 91.5L185.3 89.6L185.8 87.8L186.3 85.9M187.3 81.8L187.8 80.0L188.3 78.2L188.8 76.4L189.3 74.7M190.4 70.9L190.9 69.3L191.3 67.7L191.8 66.1L192.3 64.5M193.4 61.3L193.9 59.9L194.4 58.6L194.9 57.3L195.4 56.1M196.4 53.6L196.9 52.5L197.4 51.6L197.9 50.6L198.4 49.8M199.5 48.2L200.0 47.5L200.4 47.0L200.9 46.5L201.4 46.1M202.5 45.4L203.0 45.3L203.5 45.2L204.0 45.2L204.5 45.4M205.5 46.8L206.0 47.9L206.5 49.2L207.0 50.8L207.5 52.6M208.6 57.2L209.1 59.6L209.5 62.1L210.0 64.7L210.5 67.3M211.6 73.4L212.1 76.2L212.6 79.0L213.1 81.9L213.6 84.7M214.6 90.7L215.1 93.4L215.6 96.0L216.1 98.6L216.6 101.1M217.7 106.4L218.2 108.7L218.6 110.9L219.1 113.1L219.6 115.2M220.7 119.5L221.2 121.3L221.7 123.1L222.2 124.9L222.7 126.5M223.7 129.9L224.2 131.4L224.7 132.8L225.2 134.2L225.7 135.5M226.8 138.1L227.3 139.3L227.7 140.4L228.2 141.4L228.7 142.5M229.8 144.5L230.3 145.4L230.8 146.3L231.3 147.1L231.8 147.9M232.8 149.5L233.3 150.2L233.8 150.9L234.3 151.5L234.8 152.2M235.9 153.4L236.4 154.0L236.8 154.5L237.3 155.0L237.8 155.5M238.9 156.6L239.4 157.0L239.9 157.4L240.4 157.8L240.9 158.2M241.9 159.1L242.4 159.4L242.9 159.8L243.4 160.1L243.9 160.4M245.0 161.1L245.5 161.4L245.9 161.7L246.4 161.9L246.9 162.2M248.0 162.8L248.5 163.0L249.0 163.2L249.5 163.5L250.0 163.7M251.0 164.2L251.5 164.4L252.0 164.6L252.5 164.7L253.0 164.9M254.1 165.3L254.6 165.5L255.0 165.7L255.5 165.8L256.0 166.0M257.1 166.3L257.6 166.5L258.1 166.6L258.6 166.8L259.1 166.9M260.1 167.2L260.6 167.3L261.1 167.4L261.6 167.6L262.1 167.7M263.2 167.9L263.7 168.0L264.1 168.1L264.6 168.2L265.1 168.3M266.2 168.6L266.7 168.7L267.2 168.7L267.7 168.8L268.2 168.9M269.2 169.1L269.7 169.2L270.2 169.3L270.7 169.4L271.2 169.4M272.3 169.6L272.8 169.7L273.2 169.8L273.7 169.8L274.2 169.9M275.3 170.0L275.8 170.1L276.3 170.2L276.8 170.2L277.3 170.3M278.3 170.4L278.8 170.5L279.3 170.5L279.8 170.6L280.3 170.7M281.4 170.8L281.9 170.8L282.3 170.9L282.8 170.9L283.3 171.0M284.4 171.1L284.9 171.1L285.4 171.2L285.9 171.2L286.4 171.3M287.4 171.4L287.9 171.4L288.4 171.5L288.9 171.5L289.4 171.5M290.5 171.6L291.0 171.7L291.4 171.7L291.9 171.7L292.4 171.8M293.5 171.8L294.0 171.9L294.5 171.9L295.0 171.9L295.5 172.0M296.5 172.1L297.0 172.1L297.5 172.1L298.0 172.1L298.5 172.2M299.6 172.2L300.1 172.3L300.5 172.3L301.0 172.3L301.5 172.4M302.6 172.4L303.1 172.4L303.6 172.5L304.1 172.5L304.6 172.5M305.6 172.6L306.1 172.6L306.6 172.6L307.1 172.6L307.6 172.7M308.7 172.7L309.2 172.7L309.6 172.8L310.1 172.8L310.6 172.8M311.7 172.9L312.2 172.9L312.7 172.9L313.2 172.9L313.7 172.9M314.7 173.0L315.2 173.0L315.7 173.0L316.2 173.0L316.7 173.1M317.8 173.1L318.2 173.1L318.6 173.1L319.1 173.1L319.5 173.2" fill="none" stroke="#24962a" stroke-width="1.15"/>
</g>
<g clip-path="url(#clipb)">
<path d="M370.7 177.7 372.2 177.3 373.7 177.3 375.3 177.7 376.8 177.6 378.3 177.8 379.8 177.2 381.3 177.1 382.9 177.5 384.4 178.0 385.9 177.0 387.4 176.8 388.9 176.7 390.5 177.1 392.0 177.2 393.5 177.3 395.0 177.5 396.5 178.0 398.1 177.9 399.6 177.5 401.1 178.0 402.6 178.4 404.2 177.6 405.7 178.0 407.2 178.7 408.7 178.3 410.2 177.6 411.8 178.2 413.3 178.6 414.8 177.7 416.3 176.8 417.8 177.5 419.4 177.5 420.9 177.0 422.4 177.5 423.9 177.3 425.4 177.1 427.0 177.3 428.5 177.8 430.0 177.8 431.5 177.2 433.0 177.0 434.6 177.1 436.1 177.7 437.6 177.5 439.1 177.6 440.6 178.0 442.2 176.7 443.7 176.3 445.2 177.0 446.7 176.1 448.2 176.1 449.8 176.4 451.3 176.7 452.8 177.6 454.3 178.4 455.9 177.3 457.4 178.3 458.9 179.3 460.4 177.4 461.9 177.7 463.5 177.3 465.0 177.6 466.5 177.8 468.0 178.0 469.5 178.5 471.1 177.6 472.6 177.6 474.1 176.9 475.6 176.5 477.1 178.2 478.7 179.2 480.2 179.8 481.7 177.6 483.2 179.9 484.7 180.1 486.3 180.4 487.8 179.1 489.3 177.4 490.8 180.5 492.3 179.7 493.9 179.3 495.4 177.0 496.9 177.0 498.4 177.5 499.9 175.3 501.5 174.6 503.0 172.0 504.5 172.4 506.0 169.9 507.5 171.8 509.1 172.0 510.6 174.6 512.1 177.0 513.6 179.2 515.2 182.1 516.7 182.8 518.2 185.8 519.7 187.5 521.2 183.3 522.8 185.2 524.3 182.5 525.8 176.1 527.3 173.8 528.8 168.8 530.4 167.9 531.9 168.9 533.4 169.5 534.9 174.3 536.4 174.1 538.0 176.9 539.5 177.7 541.0 179.7 542.5 179.6 544.0 180.4 545.6 179.9 547.1 181.7 548.6 181.7 550.1 180.2 551.6 177.9 553.2 179.0 554.7 179.0 556.2 178.4 557.7 177.6 559.2 177.4 560.8 177.1 562.3 177.0 563.8 177.0 565.3 178.0 566.9 178.1 568.4 179.7 569.9 179.2 571.4 177.7 572.9 177.5 574.5 177.4 576.0 176.9 577.5 176.3 579.0 176.1 580.5 176.4 582.1 177.6 583.6 177.8 585.1 177.8 586.6 177.6 588.1 177.9 589.7 178.0 591.2 177.7 592.7 177.5 594.2 177.7 595.7 178.0 597.3 177.7 598.8 177.2 600.3 176.4 601.8 177.2 603.3 177.9 604.9 177.7 606.4 176.8 607.9 176.4 609.4 176.0 610.9 176.4 612.5 177.5 614.0 177.5 615.5 177.6 617.0 177.3 618.6 177.5 620.1 177.6 621.6 177.5 623.1 177.9 624.6 177.9 626.2 177.5 627.7 177.2 629.2 177.4 630.7 177.2 632.2 177.1 633.8 177.4 635.3 177.5 636.8 177.4 638.3 177.5 639.8 177.7 641.4 177.8 642.9 177.6 644.4 177.6" fill="none" stroke="#1e1eff" stroke-width="1.3"/>
<path d="M370.7 170.8h0M372.2 170.3h0M373.7 170.3h0M375.3 170.5h0M376.8 170.3h0M378.3 170.4h0M379.8 169.7h0M381.3 169.5h0M382.9 169.8h0M384.4 170.2h0M385.9 169.1h0M387.4 168.7h0M388.9 168.4h0M390.5 168.7h0M392.0 168.7h0M393.5 168.6h0M395.0 168.6h0M396.5 168.9h0M398.1 168.6h0M399.6 168.1h0M401.1 168.4h0M402.6 168.5h0M404.2 167.5h0M405.7 167.7h0M407.2 168.2h0M408.7 167.4h0M410.2 166.5h0M411.8 166.8h0M413.3 166.9h0M414.8 165.7h0M416.3 164.5h0M417.8 164.8h0M419.4 164.4h0M420.9 163.6h0M422.4 163.6h0M423.9 163.0h0M425.4 162.3h0M427.0 162.0h0M428.5 161.9h0M430.0 161.4h0M431.5 160.2h0M433.0 159.4h0M434.6 158.8h0M436.1 158.6h0M437.6 157.7h0M439.1 157.0h0M440.6 156.5h0M442.2 154.3h0M443.7 153.0h0M445.2 152.6h0M446.7 150.7h0M448.2 149.5h0M449.8 148.6h0M451.3 147.6h0M452.8 147.3h0M454.3 146.7h0M455.9 144.2h0M457.4 143.6h0M458.9 143.0h0M460.4 139.5h0M461.9 138.0h0M463.5 135.9h0M465.0 134.4h0M466.5 132.7h0M468.0 130.9h0M469.5 129.4h0M471.1 126.6h0M472.6 124.5h0M474.1 121.8h0M475.6 119.4h0M477.1 119.1h0M478.7 118.1h0M480.2 116.6h0M481.7 112.5h0M483.2 112.8h0M484.7 111.1h0M486.3 109.4h0M487.8 106.1h0M489.3 102.4h0M490.8 103.4h0M492.3 100.2h0M493.9 97.5h0M495.4 92.5h0M496.9 89.5h0M498.4 86.8h0M499.9 81.1h0M501.5 76.5h0M503.0 69.6h0M504.5 65.4h0M506.0 57.9h0M507.5 54.4h0M509.1 48.9h0M510.6 45.7h0M512.1 42.0h0M513.6 38.2h0M515.2 35.2h0M516.7 30.5h0M518.2 28.7h0M519.7 26.4h0M521.2 19.3h0M522.8 19.7h0M524.3 16.9h0M525.8 11.9h0M527.3 12.5h0M528.8 11.7h0M530.4 16.2h0M531.9 23.5h0M533.4 31.1h0M534.9 43.4h0M536.4 50.8h0M538.0 61.3h0M539.5 69.7h0M541.0 79.2h0M542.5 86.2h0M544.0 93.8h0M545.6 99.7h0M547.1 107.5h0M548.6 113.0h0M550.1 116.7h0M551.6 119.2h0M553.2 124.6h0M554.7 128.6h0M556.2 131.6h0M557.7 134.2h0M559.2 136.9h0M560.8 139.4h0M562.3 141.7h0M563.8 143.9h0M565.3 146.9h0M566.9 148.9h0M568.4 152.1h0M569.9 153.1h0M571.4 152.9h0M572.9 153.9h0M574.5 155.0h0M576.0 155.6h0M577.5 155.9h0M579.0 156.5h0M580.5 157.6h0M582.1 159.5h0M583.6 160.4h0M585.1 161.1h0M586.6 161.5h0M588.1 162.3h0M589.7 163.0h0M591.2 163.1h0M592.7 163.4h0M594.2 164.0h0M595.7 164.7h0M597.3 164.8h0M598.8 164.6h0M600.3 164.2h0M601.8 165.3h0M603.3 166.3h0M604.9 166.5h0M606.4 165.9h0M607.9 165.7h0M609.4 165.6h0M610.9 166.2h0M612.5 167.5h0M614.0 167.8h0M615.5 168.0h0M617.0 168.0h0M618.6 168.4h0M620.1 168.6h0M621.6 168.8h0M623.1 169.3h0M624.6 169.5h0M626.2 169.2h0M627.7 169.0h0M629.2 169.5h0M630.7 169.4h0M632.2 169.4h0M633.8 169.8h0M635.3 170.0h0M636.8 170.1h0M638.3 170.3h0M639.8 170.7h0M641.4 170.8h0M642.9 170.7h0M644.4 170.8h0" stroke="#000" stroke-width="2.6" stroke-linecap="round"/>
<path d="M370.7 170.7 371.1 170.6 371.5 170.6 371.8 170.6 372.2 170.6 372.6 170.5 373.0 170.5 373.4 170.5 373.7 170.5 374.1 170.4 374.5 170.4 374.9 170.4 375.3 170.4 375.6 170.3 376.0 170.3 376.4 170.3 376.8 170.2 377.2 170.2 377.5 170.2 377.9 170.2 378.3 170.1 378.7 170.1 379.1 170.1 379.4 170.1 379.8 170.0 380.2 170.0 380.6 170.0 381.0 169.9 381.3 169.9 381.7 169.9 382.1 169.8 382.5 169.8 382.9 169.8 383.2 169.8 383.6 169.7 384.0 169.7 384.4 169.7 384.8 169.6 385.1 169.6 385.5 169.6 385.9 169.5 386.3 169.5 386.7 169.5 387.0 169.4 387.4 169.4 387.8 169.4 388.2 169.3 388.6 169.3 388.9 169.2 389.3 169.2 389.7 169.2 390.1 169.1 390.5 169.1 390.8 169.1 391.2 169.0 391.6 169.0 392.0 168.9 392.4 168.9 392.7 168.9 393.1 168.8 393.5 168.8 393.9 168.7 394.3 168.7 394.6 168.7 395.0 168.6 395.4 168.6 395.8 168.5 396.2 168.5 396.5 168.4 396.9 168.4 397.3 168.3 397.7 168.3 398.1 168.2 398.5 168.2 398.8 168.2 399.2 168.1 399.6 168.1 400.0 168.0 400.4 168.0 400.7 167.9 401.1 167.9 401.5 167.8 401.9 167.7 402.3 167.7 402.6 167.6 403.0 167.6 403.4 167.5 403.8 167.5 404.2 167.4 404.5 167.4 404.9 167.3 405.3 167.2 405.7 167.2 406.1 167.1 406.4 167.1 406.8 167.0 407.2 166.9 407.6 166.9 408.0 166.8 408.3 166.7 408.7 166.7 409.1 166.6 409.5 166.5 409.9 166.5 410.2 166.4 410.6 166.3 411.0 166.3 411.4 166.2 411.8 166.1 412.1 166.0 412.5 166.0 412.9 165.9 413.3 165.8 413.7 165.7 414.0 165.7 414.4 165.6 414.8 165.5 415.2 165.4 415.6 165.3 415.9 165.3 416.3 165.2 416.7 165.1 417.1 165.0 417.5 164.9 417.8 164.8 418.2 164.7 418.6 164.6 419.0 164.5 419.4 164.4 419.7 164.3 420.1 164.2 420.5 164.1 420.9 164.0 421.3 163.9 421.6 163.8 422.0 163.7 422.4 163.6 422.8 163.5 423.2 163.4 423.5 163.3 423.9 163.2 424.3 163.0 424.7 162.9 425.1 162.8 425.4 162.7 425.8 162.6 426.2 162.4 426.6 162.3 427.0 162.2 427.3 162.1 427.7 161.9 428.1 161.8 428.5 161.7 428.9 161.5 429.2 161.4 429.6 161.2 430.0 161.1 430.4 160.9 430.8 160.8 431.1 160.6 431.5 160.5 431.9 160.3 432.3 160.2 432.7 160.0 433.0 159.8 433.4 159.7 433.8 159.5 434.2 159.3 434.6 159.2 434.9 159.0 435.3 158.8 435.7 158.6 436.1 158.5 436.5 158.3 436.8 158.1 437.2 157.9 437.6 157.7 438.0 157.5 438.4 157.3 438.7 157.1 439.1 156.9 439.5 156.7 439.9 156.5 440.3 156.2 440.6 156.0 441.0 155.8 441.4 155.6 441.8 155.3 442.2 155.1 442.5 154.9 442.9 154.6 443.3 154.4 443.7 154.2 444.1 153.9 444.4 153.7 444.8 153.4 445.2 153.1 445.6 152.9 446.0 152.6 446.3 152.3 446.7 152.1 447.1 151.8 447.5 151.5 447.9 151.2 448.2 150.9 448.6 150.6 449.0 150.3 449.4 150.0 449.8 149.7 450.1 149.4 450.5 149.1 450.9 148.8 451.3 148.5 451.7 148.2 452.0 147.8 452.4 147.5 452.8 147.2 453.2 146.8 453.6 146.5 454.0 146.1 454.3 145.8 454.7 145.4 455.1 145.1 455.5 144.7 455.9 144.3 456.2 143.9 456.6 143.6 457.0 143.2 457.4 142.8 457.8 142.4 458.1 142.0 458.5 141.6 458.9 141.2 459.3 140.8 459.7 140.4 460.0 140.0 460.4 139.6 460.8 139.1 461.2 138.7 461.6 138.3 461.9 137.8 462.3 137.4 462.7 137.0 463.1 136.5 463.5 136.1 463.8 135.6 464.2 135.1 464.6 134.7 465.0 134.2 465.4 133.8 465.7 133.3 466.1 132.8 466.5 132.3 466.9 131.9 467.3 131.4 467.6 130.9 468.0 130.4 468.4 129.9 468.8 129.4 469.2 128.9 469.5 128.4 469.9 127.9 470.3 127.4 470.7 126.9 471.1 126.4 471.4 125.9 471.8 125.4 472.2 124.9 472.6 124.4 473.0 123.9 473.3 123.4 473.7 122.9 474.1 122.4 474.5 121.9 474.9 121.4 475.2 120.9 475.6 120.4 476.0 119.9 476.4 119.3 476.8 118.8 477.1 118.3 477.5 117.8 477.9 117.3 478.3 116.8 478.7 116.3 479.0 115.8 479.4 115.3 479.8 114.9 480.2 114.4 480.6 113.9 480.9 113.4 481.3 112.9 481.7 112.4 482.1 111.9 482.5 111.4 482.8 110.9 483.2 110.4 483.6 110.0 484.0 109.5 484.4 109.0 484.7 108.5 485.1 108.0 485.5 107.5 485.9 107.0 486.3 106.6 486.6 106.1 487.0 105.6 487.4 105.1 487.8 104.6 488.2 104.1 488.5 103.5 488.9 103.0 489.3 102.5 489.7 102.0 490.1 101.5 490.4 100.9 490.8 100.4 491.2 99.8 491.6 99.2 492.0 98.7 492.3 98.1 492.7 97.5 493.1 96.9 493.5 96.3 493.9 95.6 494.2 95.0 494.6 94.3 495.0 93.6 495.4 93.0 495.8 92.2 496.1 91.5 496.5 90.8 496.9 90.0 497.3 89.3 497.7 88.5 498.0 87.6 498.4 86.8 498.8 86.0 499.2 85.1 499.6 84.2 499.9 83.3 500.3 82.3 500.7 81.4 501.1 80.4 501.5 79.4 501.8 78.3 502.2 77.3 502.6 76.2 503.0 75.1 503.4 74.0 503.7 72.8 504.1 71.7 504.5 70.5 504.9 69.3 505.3 68.0 505.6 66.7 506.0 65.5 506.4 64.1 506.8 62.8 507.2 61.5 507.5 60.1 507.9 58.7 508.3 57.3 508.7 55.9 509.1 54.4 509.5 53.0 509.8 51.5 510.2 50.0 510.6 48.5 511.0 47.0 511.4 45.5 511.7 44.0 512.1 42.5 512.5 41.0 512.9 39.5 513.3 38.0 513.6 36.5 514.0 35.0 514.4 33.5 514.8 32.1 515.2 30.7 515.5 29.2 515.9 27.9 516.3 26.5 516.7 25.2 517.1 23.9 517.4 22.7 517.8 21.5 518.2 20.4 518.6 19.3 519.0 18.3 519.3 17.3 519.7 16.4 520.1 15.6 520.5 14.8 520.9 14.2 521.2 13.6 521.6 13.0 522.0 12.6 522.4 12.3 522.8 12.0 523.1 11.8 523.5 11.8 523.9 11.8 524.3 11.9 524.7 12.1 525.0 12.4 525.4 12.8 525.8 13.3 526.2 13.9 526.6 14.6 526.9 15.3 527.3 16.2 527.7 17.1 528.1 18.1 528.5 19.2 528.8 20.4 529.2 21.6 529.6 23.0 530.0 24.3 530.4 25.8 530.7 27.3 531.1 28.8 531.5 30.4 531.9 32.1 532.3 33.8 532.6 35.5 533.0 37.3 533.4 39.1 533.8 40.9 534.2 42.8 534.5 44.6 534.9 46.5 535.3 48.4 535.7 50.3 536.1 52.3 536.4 54.2 536.8 56.1 537.2 58.1 537.6 60.0 538.0 61.9 538.3 63.8 538.7 65.8 539.1 67.7 539.5 69.6 539.9 71.4 540.2 73.3 540.6 75.1 541.0 77.0 541.4 78.8 541.8 80.6 542.1 82.3 542.5 84.1 542.9 85.8 543.3 87.5 543.7 89.2 544.0 90.9 544.4 92.5 544.8 94.1 545.2 95.7 545.6 97.3 545.9 98.8 546.3 100.3 546.7 101.8 547.1 103.2 547.5 104.7 547.8 106.1 548.2 107.5 548.6 108.8 549.0 110.1 549.4 111.4 549.7 112.7 550.1 114.0 550.5 115.2 550.9 116.4 551.3 117.6 551.6 118.7 552.0 119.9 552.4 121.0 552.8 122.0 553.2 123.1 553.5 124.1 553.9 125.1 554.3 126.1 554.7 127.1 555.1 128.0 555.4 128.9 555.8 129.8 556.2 130.7 556.6 131.6 557.0 132.4 557.3 133.2 557.7 134.0 558.1 134.8 558.5 135.6 558.9 136.3 559.2 137.0 559.6 137.7 560.0 138.4 560.4 139.1 560.8 139.7 561.1 140.4 561.5 141.0 561.9 141.6 562.3 142.2 562.7 142.8 563.1 143.3 563.4 143.9 563.8 144.4 564.2 145.0 564.6 145.5 565.0 146.0 565.3 146.4 565.7 146.9 566.1 147.4 566.5 147.8 566.9 148.3 567.2 148.7 567.6 149.1 568.0 149.5 568.4 149.9 568.8 150.3 569.1 150.7 569.5 151.0 569.9 151.4 570.3 151.7 570.7 152.1 571.0 152.4 571.4 152.7 571.8 153.1 572.2 153.4 572.6 153.7 572.9 154.0 573.3 154.3 573.7 154.5 574.1 154.8 574.5 155.1 574.8 155.4 575.2 155.6 575.6 155.9 576.0 156.1 576.4 156.4 576.7 156.6 577.1 156.8 577.5 157.0 577.9 157.3 578.3 157.5 578.6 157.7 579.0 157.9 579.4 158.1 579.8 158.3 580.2 158.5 580.5 158.7 580.9 158.9 581.3 159.1 581.7 159.3 582.1 159.4 582.4 159.6 582.8 159.8 583.2 160.0 583.6 160.1 584.0 160.3 584.3 160.4 584.7 160.6 585.1 160.8 585.5 160.9 585.9 161.1 586.2 161.2 586.6 161.3 587.0 161.5 587.4 161.6 587.8 161.8 588.1 161.9 588.5 162.0 588.9 162.2 589.3 162.3 589.7 162.4 590.0 162.5 590.4 162.7 590.8 162.8 591.2 162.9 591.6 163.0 591.9 163.1 592.3 163.3 592.7 163.4 593.1 163.5 593.5 163.6 593.8 163.7 594.2 163.8 594.6 163.9 595.0 164.0 595.4 164.1 595.7 164.2 596.1 164.3 596.5 164.4 596.9 164.5 597.3 164.6 597.6 164.7 598.0 164.8 598.4 164.9 598.8 165.0 599.2 165.0 599.5 165.1 599.9 165.2 600.3 165.3 600.7 165.4 601.1 165.5 601.4 165.6 601.8 165.6 602.2 165.7 602.6 165.8 603.0 165.9 603.3 165.9 603.7 166.0 604.1 166.1 604.5 166.2 604.9 166.2 605.2 166.3 605.6 166.4 606.0 166.5 606.4 166.5 606.8 166.6 607.1 166.7 607.5 166.7 607.9 166.8 608.3 166.9 608.7 166.9 609.0 167.0 609.4 167.0 609.8 167.1 610.2 167.2 610.6 167.2 610.9 167.3 611.3 167.4 611.7 167.4 612.1 167.5 612.5 167.5 612.8 167.6 613.2 167.6 613.6 167.7 614.0 167.8 614.4 167.8 614.7 167.9 615.1 167.9 615.5 168.0 615.9 168.0 616.3 168.1 616.6 168.1 617.0 168.2 617.4 168.2 617.8 168.3 618.2 168.3 618.6 168.4 618.9 168.4 619.3 168.5 619.7 168.5 620.1 168.6 620.5 168.6 620.8 168.6 621.2 168.7 621.6 168.7 622.0 168.8 622.4 168.8 622.7 168.9 623.1 168.9 623.5 168.9 623.9 169.0 624.3 169.0 624.6 169.1 625.0 169.1 625.4 169.2 625.8 169.2 626.2 169.2 626.5 169.3 626.9 169.3 627.3 169.3 627.7 169.4 628.1 169.4 628.4 169.5 628.8 169.5 629.2 169.5 629.6 169.6 630.0 169.6 630.3 169.6 630.7 169.7 631.1 169.7 631.5 169.7 631.9 169.8 632.2 169.8 632.6 169.8 633.0 169.9 633.4 169.9 633.8 169.9 634.1 170.0 634.5 170.0 634.9 170.0 635.3 170.1 635.7 170.1 636.0 170.1 636.4 170.2 636.8 170.2 637.2 170.2 637.6 170.2 637.9 170.3 638.3 170.3 638.7 170.3 639.1 170.4 639.5 170.4 639.8 170.4 640.2 170.4 640.6 170.5 641.0 170.5 641.4 170.5 641.7 170.6 642.1 170.6 642.5 170.6 642.9 170.6 643.3 170.7 643.6 170.7 644.0 170.7 644.4 170.7" fill="none" stroke="#ff0f0f" stroke-width="1.2"/>
<path d="M372.0 172.5L372.5 172.5L373.0 172.5L373.5 172.5L374.0 172.4M375.0 172.4L375.5 172.4L376.0 172.3L376.5 172.3L377.0 172.3M378.1 172.3L378.6 172.2L379.1 172.2L379.6 172.2L380.1 172.2M381.1 172.1L381.6 172.1L382.1 172.1L382.6 172.0L383.1 172.0M384.2 172.0L384.7 171.9L385.2 171.9L385.6 171.9L386.1 171.9M387.2 171.8L387.7 171.8L388.2 171.7L388.7 171.7L389.2 171.7M390.2 171.6L390.7 171.6L391.2 171.5L391.7 171.5L392.2 171.5M393.3 171.4L393.8 171.4L394.3 171.3L394.8 171.3L395.3 171.3M396.3 171.2L396.8 171.1L397.3 171.1L397.8 171.1L398.3 171.0M399.4 170.9L399.9 170.9L400.4 170.9L400.8 170.8L401.3 170.8M402.4 170.7L402.9 170.6L403.4 170.6L403.9 170.5L404.4 170.5M405.5 170.4L405.9 170.3L406.4 170.3L406.9 170.2L407.4 170.2M408.5 170.0L409.0 170.0L409.5 169.9L410.0 169.9L410.5 169.8M411.5 169.7L412.0 169.6L412.5 169.5L413.0 169.5L413.5 169.4M414.6 169.2L415.1 169.2L415.6 169.1L416.1 169.0L416.5 168.9M417.6 168.7L418.1 168.7L418.6 168.6L419.1 168.5L419.6 168.4M420.7 168.2L421.2 168.1L421.6 168.0L422.1 167.9L422.6 167.8M423.7 167.6L424.2 167.5L424.7 167.4L425.2 167.2L425.7 167.1M426.7 166.9L427.2 166.7L427.7 166.6L428.2 166.5L428.7 166.4M429.8 166.1L430.3 165.9L430.8 165.8L431.3 165.6L431.8 165.5M432.8 165.2L433.3 165.0L433.8 164.8L434.3 164.7L434.8 164.5M435.9 164.1L436.4 163.9L436.8 163.7L437.3 163.6L437.8 163.4M438.9 162.9L439.4 162.7L439.9 162.5L440.4 162.3L440.9 162.1M441.9 161.6L442.4 161.4L442.9 161.1L443.4 160.9L443.9 160.7M445.0 160.1L445.5 159.9L446.0 159.6L446.5 159.3L447.0 159.1M448.0 158.4L448.5 158.2L449.0 157.9L449.5 157.6L450.0 157.3M451.1 156.6L451.6 156.3L452.1 156.0L452.5 155.6L453.0 155.3M454.1 154.6L454.6 154.2L455.1 153.9L455.6 153.5L456.1 153.1M457.2 152.3L457.6 152.0L458.1 151.6L458.6 151.2L459.1 150.8M460.2 149.9L460.7 149.5L461.2 149.1L461.7 148.7L462.2 148.3M463.2 147.4L463.7 147.0L464.2 146.6L464.7 146.2L465.2 145.7M466.3 144.8L466.8 144.4L467.3 144.0L467.8 143.5L468.2 143.1M469.3 142.2L469.8 141.8L470.3 141.4L470.8 141.0L471.3 140.6M472.4 139.7L472.8 139.4L473.3 139.0L473.8 138.6L474.3 138.3M475.4 137.5L475.9 137.2L476.4 136.9L476.9 136.6L477.4 136.3M478.4 135.8L478.9 135.5L479.4 135.3L479.9 135.1L480.4 134.9M481.5 134.5L482.0 134.4L482.5 134.3L483.0 134.2L483.5 134.1M484.5 134.0L485.0 134.0L485.5 134.0L486.0 134.1L486.5 134.1M487.6 134.3L488.1 134.4L488.5 134.5L489.0 134.6L489.5 134.8M490.6 135.2L491.1 135.4L491.6 135.7L492.1 135.9L492.6 136.2M493.6 136.8L494.1 137.1L494.6 137.4L495.1 137.8L495.6 138.1M496.7 138.9L497.2 139.2L497.7 139.6L498.2 140.0L498.7 140.4M499.7 141.3L500.2 141.7L500.7 142.1L501.2 142.5L501.7 142.9M502.8 143.8L503.3 144.3L503.8 144.7L504.2 145.1L504.7 145.5M505.8 146.4L506.3 146.9L506.8 147.3L507.3 147.7L507.8 148.1M508.9 149.0L509.3 149.4L509.8 149.8L510.3 150.2L510.8 150.6M511.9 151.5L512.4 151.8L512.9 152.2L513.4 152.6L513.9 153.0M514.9 153.8L515.4 154.1L515.9 154.5L516.4 154.8L516.9 155.2M518.0 155.9L518.5 156.2L519.0 156.5L519.5 156.8L519.9 157.1M521.0 157.8L521.5 158.1L522.0 158.4L522.5 158.7L523.0 159.0M524.1 159.5L524.5 159.8L525.0 160.1L525.5 160.3L526.0 160.6M527.1 161.1L527.6 161.3L528.1 161.6L528.6 161.8L529.1 162.0M530.1 162.5L530.6 162.7L531.1 162.9L531.6 163.1L532.1 163.3M533.2 163.7L533.7 163.9L534.2 164.1L534.7 164.3L535.1 164.5M536.2 164.8L536.7 165.0L537.2 165.2L537.7 165.3L538.2 165.5M539.3 165.8L539.8 165.9L540.2 166.1L540.7 166.2L541.2 166.4M542.3 166.7L542.8 166.8L543.3 166.9L543.8 167.0L544.3 167.1M545.3 167.4L545.8 167.5L546.3 167.6L546.8 167.7L547.3 167.8M548.4 168.1L548.9 168.2L549.4 168.2L549.9 168.3L550.4 168.4M551.4 168.6L551.9 168.7L552.4 168.8L552.9 168.9L553.4 169.0M554.5 169.1L555.0 169.2L555.5 169.3L555.9 169.4L556.4 169.4M557.5 169.6L558.0 169.7L558.5 169.7L559.0 169.8L559.5 169.9M560.5 170.0L561.0 170.1L561.5 170.1L562.0 170.2L562.5 170.2M563.6 170.3L564.1 170.4L564.6 170.5L565.1 170.5L565.6 170.6M566.6 170.7L567.1 170.7L567.6 170.8L568.1 170.8L568.6 170.9M569.7 171.0L570.2 171.0L570.7 171.0L571.2 171.1L571.6 171.1M572.7 171.2L573.2 171.3L573.7 171.3L574.2 171.3L574.7 171.4M575.8 171.4L576.2 171.5L576.7 171.5L577.2 171.6L577.7 171.6M578.8 171.7L579.3 171.7L579.8 171.7L580.3 171.8L580.8 171.8M581.8 171.9L582.3 171.9L582.8 171.9L583.3 171.9L583.8 172.0M584.9 172.0L585.4 172.1L585.9 172.1L586.4 172.1L586.8 172.1M587.9 172.2L588.4 172.2L588.9 172.2L589.4 172.3L589.9 172.3M591.0 172.3L591.5 172.4L591.9 172.4L592.4 172.4L592.9 172.4M594.0 172.5L594.5 172.5L595.0 172.5L595.5 172.6L596.0 172.6M597.0 172.6L597.5 172.6L598.0 172.7L598.5 172.7L599.0 172.7M600.1 172.7L600.6 172.8L601.1 172.8L601.6 172.8L602.1 172.8M603.1 172.9L603.6 172.9L604.1 172.9L604.6 172.9L605.1 172.9M606.2 173.0L606.7 173.0L607.2 173.0L607.6 173.0L608.1 173.0M609.2 173.1L609.7 173.1L610.2 173.1L610.7 173.1L611.2 173.1M612.2 173.1L612.7 173.2L613.2 173.2L613.7 173.2L614.2 173.2M615.3 173.2L615.8 173.2L616.3 173.3L616.8 173.3L617.3 173.3M618.3 173.3L618.8 173.3L619.3 173.3L619.8 173.3L620.3 173.4M621.4 173.4L621.9 173.4L622.4 173.4L622.8 173.4L623.3 173.4M624.4 173.5L624.9 173.5L625.4 173.5L625.9 173.5L626.4 173.5M627.5 173.5L627.9 173.5L628.4 173.5L628.9 173.6L629.4 173.6M630.5 173.6L631.0 173.6L631.5 173.6L632.0 173.6L632.5 173.6M633.5 173.6L634.0 173.7L634.5 173.7L635.0 173.7L635.5 173.7M636.6 173.7L637.1 173.7L637.6 173.7L638.1 173.7L638.5 173.7M639.6 173.8L640.1 173.8L640.6 173.8L641.1 173.8L641.6 173.8M642.7 173.8L643.1 173.8L643.5 173.8L644.0 173.8L644.4 173.8" fill="none" stroke="#ff8a1e" stroke-width="1.2"/>
<path d="M372.0 172.9L372.5 172.9L373.0 172.9L373.5 172.9L374.0 172.9M375.0 172.9L375.5 172.9L376.0 172.8L376.5 172.8L377.0 172.8M378.1 172.8L378.6 172.8L379.1 172.8L379.6 172.7L380.1 172.7M381.1 172.7L381.6 172.7L382.1 172.7L382.6 172.7L383.1 172.6M384.2 172.6L384.7 172.6L385.2 172.6L385.6 172.6L386.1 172.5M387.2 172.5L387.7 172.5L388.2 172.5L388.7 172.5L389.2 172.4M390.2 172.4L390.7 172.4L391.2 172.4L391.7 172.4L392.2 172.3M393.3 172.3L393.8 172.3L394.3 172.3L394.8 172.2L395.3 172.2M396.3 172.2L396.8 172.2L397.3 172.1L397.8 172.1L398.3 172.1M399.4 172.0L399.9 172.0L400.4 172.0L400.8 172.0L401.3 172.0M402.4 171.9L402.9 171.9L403.4 171.9L403.9 171.8L404.4 171.8M405.5 171.8L405.9 171.7L406.4 171.7L406.9 171.7L407.4 171.7M408.5 171.6L409.0 171.6L409.5 171.5L410.0 171.5L410.5 171.5M411.5 171.4L412.0 171.4L412.5 171.4L413.0 171.3L413.5 171.3M414.6 171.2L415.1 171.2L415.6 171.2L416.1 171.1L416.5 171.1M417.6 171.0L418.1 171.0L418.6 171.0L419.1 170.9L419.6 170.9M420.7 170.8L421.2 170.8L421.6 170.7L422.1 170.7L422.6 170.7M423.7 170.6L424.2 170.5L424.7 170.5L425.2 170.5L425.7 170.4M426.7 170.3L427.2 170.3L427.7 170.2L428.2 170.2L428.7 170.1M429.8 170.0L430.3 170.0L430.8 169.9L431.3 169.9L431.8 169.8M432.8 169.7L433.3 169.7L433.8 169.6L434.3 169.6L434.8 169.5M435.9 169.4L436.4 169.3L436.8 169.3L437.3 169.2L437.8 169.1M438.9 169.0L439.4 168.9L439.9 168.9L440.4 168.8L440.9 168.7M441.9 168.6L442.4 168.5L442.9 168.4L443.4 168.4L443.9 168.3M445.0 168.1L445.5 168.0L446.0 168.0L446.5 167.9L447.0 167.8M448.0 167.6L448.5 167.5L449.0 167.4L449.5 167.3L450.0 167.2M451.1 167.0L451.6 166.9L452.1 166.8L452.5 166.7L453.0 166.6M454.1 166.4L454.6 166.3L455.1 166.1L455.6 166.0L456.1 165.9M457.2 165.6L457.6 165.5L458.1 165.4L458.6 165.2L459.1 165.1M460.2 164.8L460.7 164.7L461.2 164.5L461.7 164.4L462.2 164.2M463.2 163.9L463.7 163.7L464.2 163.5L464.7 163.3L465.2 163.2M466.3 162.7L466.8 162.5L467.3 162.3L467.8 162.1L468.2 161.9M469.3 161.4L469.8 161.2L470.3 161.0L470.8 160.7L471.3 160.5M472.4 159.9L472.8 159.6L473.3 159.4L473.8 159.1L474.3 158.8M475.4 158.1L475.9 157.7L476.4 157.4L476.9 157.0L477.4 156.7M478.4 155.8L478.9 155.4L479.4 155.0L479.9 154.6L480.4 154.1M481.5 153.1L482.0 152.6L482.5 152.1L483.0 151.5L483.5 151.0M484.5 149.7L485.0 149.1L485.5 148.5L486.0 147.8L486.5 147.1M487.6 145.6L488.1 144.8L488.5 144.0L489.0 143.2L489.5 142.4M490.6 140.4L491.1 139.5L491.6 138.5L492.1 137.5L492.6 136.5M493.6 134.2L494.1 133.0L494.6 131.9L495.1 130.6L495.6 129.4M496.7 126.6L497.2 125.2L497.7 123.8L498.2 122.4L498.7 120.9M499.7 117.5L500.2 115.9L500.7 114.2L501.2 112.6L501.7 110.8M502.8 106.9L503.3 105.0L503.8 103.1L504.2 101.2L504.7 99.2M505.8 94.7L506.3 92.6L506.8 90.5L507.3 88.3L507.8 86.1M508.9 81.2L509.3 79.0L509.8 76.6L510.3 74.3L510.8 72.0M511.9 66.9L512.4 64.6L512.9 62.2L513.4 59.9L513.9 57.6M514.9 52.7L515.4 50.5L515.9 48.4L516.4 46.3L516.9 44.3M518.0 40.1L518.5 38.4L519.0 36.7L519.5 35.2L519.9 33.7M521.0 31.1L521.5 30.1L522.0 29.2L522.5 28.5L523.0 27.9M524.1 27.3L524.5 27.2L525.0 27.3L525.5 27.6L526.0 28.1M527.1 29.6L527.6 30.5L528.1 31.6L528.6 32.8L529.1 34.1M530.1 37.4L530.6 39.1L531.1 40.9L531.6 42.8L532.1 44.8M533.2 49.3L533.7 51.5L534.2 53.7L534.7 55.9L535.1 58.2M536.2 63.2L536.7 65.6L537.2 67.9L537.7 70.3L538.2 72.6M539.3 77.7L539.8 80.0L540.2 82.2L540.7 84.5L541.2 86.7M542.3 91.4L542.8 93.6L543.3 95.7L543.8 97.7L544.3 99.7M545.3 104.0L545.8 105.9L546.3 107.7L546.8 109.5L547.3 111.3M548.4 115.0L548.9 116.6L549.4 118.2L549.9 119.8L550.4 121.3M551.4 124.4L551.9 125.8L552.4 127.2L552.9 128.5L553.4 129.8M554.5 132.4L555.0 133.6L555.5 134.7L555.9 135.8L556.4 136.8M557.5 139.0L558.0 139.9L558.5 140.9L559.0 141.8L559.5 142.6M560.5 144.4L561.0 145.2L561.5 145.9L562.0 146.6L562.5 147.3M563.6 148.8L564.1 149.4L564.6 150.0L565.1 150.6L565.6 151.2M566.6 152.4L567.1 152.9L567.6 153.4L568.1 153.8L568.6 154.3M569.7 155.2L570.2 155.7L570.7 156.1L571.2 156.5L571.6 156.8M572.7 157.6L573.2 157.9L573.7 158.3L574.2 158.6L574.7 158.9M575.8 159.5L576.2 159.8L576.7 160.1L577.2 160.4L577.7 160.6M578.8 161.2L579.3 161.4L579.8 161.6L580.3 161.8L580.8 162.1M581.8 162.5L582.3 162.7L582.8 162.9L583.3 163.1L583.8 163.3M584.9 163.7L585.4 163.8L585.9 164.0L586.4 164.2L586.8 164.3M587.9 164.7L588.4 164.8L588.9 165.0L589.4 165.1L589.9 165.2M591.0 165.5L591.5 165.7L591.9 165.8L592.4 165.9L592.9 166.0M594.0 166.3L594.5 166.4L595.0 166.5L595.5 166.6L596.0 166.7M597.0 167.0L597.5 167.1L598.0 167.2L598.5 167.3L599.0 167.4M600.1 167.6L600.6 167.7L601.1 167.7L601.6 167.8L602.1 167.9M603.1 168.1L603.6 168.2L604.1 168.3L604.6 168.3L605.1 168.4M606.2 168.6L606.7 168.6L607.2 168.7L607.6 168.8L608.1 168.9M609.2 169.0L609.7 169.1L610.2 169.1L610.7 169.2L611.2 169.3M612.2 169.4L612.7 169.5L613.2 169.5L613.7 169.6L614.2 169.6M615.3 169.8L615.8 169.8L616.3 169.9L616.8 169.9L617.3 170.0M618.3 170.1L618.8 170.1L619.3 170.2L619.8 170.2L620.3 170.3M621.4 170.4L621.9 170.4L622.4 170.5L622.8 170.5L623.3 170.6M624.4 170.7L624.9 170.7L625.4 170.7L625.9 170.8L626.4 170.8M627.5 170.9L627.9 170.9L628.4 171.0L628.9 171.0L629.4 171.1M630.5 171.1L631.0 171.2L631.5 171.2L632.0 171.2L632.5 171.3M633.5 171.3L634.0 171.4L634.5 171.4L635.0 171.4L635.5 171.5M636.6 171.5L637.1 171.6L637.6 171.6L638.1 171.6L638.5 171.7M639.6 171.7L640.1 171.7L640.6 171.8L641.1 171.8L641.6 171.8M642.7 171.9L643.1 171.9L643.5 171.9L644.0 172.0L644.4 172.0" fill="none" stroke="#24962a" stroke-width="1.15"/>
</g>
<g clip-path="url(#clipc)">
<path d="M46.5 403.1 48.0 402.7 49.5 403.0 51.1 403.9 52.6 403.8 54.1 403.9 55.6 403.2 57.1 403.0 58.6 403.1 60.2 403.6 61.7 403.0 63.2 403.3 64.7 403.2 66.2 403.2 67.7 403.5 69.2 403.3 70.8 403.2 72.3 403.6 73.8 403.5 75.3 403.2 76.8 403.9 78.3 404.2 79.9 403.7 81.4 404.0 82.9 404.7 84.4 404.1 85.9 403.6 87.4 404.3 89.0 404.1 90.5 402.9 92.0 403.2 93.5 404.0 95.0 403.8 96.5 402.6 98.1 402.4 99.6 403.4 101.1 402.9 102.6 402.8 104.1 403.8 105.6 404.3 107.2 403.3 108.7 403.1 110.2 403.0 111.7 403.8 113.2 403.5 114.8 403.9 116.3 404.9 117.8 403.7 119.3 403.0 120.8 403.8 122.3 402.7 123.9 402.5 125.4 403.4 126.9 403.6 128.4 403.7 129.9 404.2 131.4 403.2 133.0 402.9 134.5 404.3 136.0 403.4 137.5 403.1 139.0 402.6 140.5 403.6 142.0 403.7 143.6 402.8 145.1 402.9 146.6 401.9 148.1 402.9 149.6 403.7 151.1 404.9 152.7 403.9 154.2 404.9 155.7 405.1 157.2 403.0 158.7 405.0 160.2 405.0 161.8 405.0 163.3 403.6 164.8 401.9 166.3 404.6 167.8 403.9 169.3 403.7 170.9 401.9 172.4 402.4 173.9 403.8 175.4 402.8 176.9 403.8 178.4 402.6 180.0 404.3 181.5 402.7 183.0 404.5 184.5 403.5 186.0 403.9 187.6 403.4 189.1 402.4 190.6 402.4 192.1 401.2 193.6 403.7 195.1 405.7 196.7 403.0 198.2 407.1 199.7 407.1 201.2 403.1 202.7 403.2 204.2 399.9 205.7 399.6 207.3 400.7 208.8 400.6 210.3 404.4 211.8 402.9 213.3 404.0 214.8 404.0 216.4 405.2 217.9 404.3 219.4 404.5 220.9 403.8 222.4 405.5 223.9 405.6 225.5 404.2 227.0 402.2 228.5 403.6 230.0 403.3 231.5 404.2 233.0 403.8 234.6 402.6 236.1 402.4 237.6 402.7 239.1 403.0 240.6 403.1 242.1 403.0 243.7 404.6 245.2 404.5 246.7 403.2 248.2 403.5 249.7 402.9 251.2 402.2 252.8 401.8 254.3 402.3 255.8 403.1 257.3 403.6 258.8 403.9 260.4 404.1 261.9 404.3 263.4 403.9 264.9 403.2 266.4 403.6 267.9 403.3 269.5 403.4 271.0 404.4 272.5 403.8 274.0 403.1 275.5 402.6 277.0 403.0 278.5 403.7 280.1 403.8 281.6 402.5 283.1 402.4 284.6 402.2 286.1 402.3 287.6 403.2 289.2 403.0 290.7 403.1 292.2 403.2 293.7 403.4 295.2 403.6 296.7 403.7 298.3 404.4 299.8 404.1 301.3 404.0 302.8 403.7 304.3 403.4 305.8 403.1 307.4 403.3 308.9 403.3 310.4 403.0 311.9 403.0 313.4 403.3 314.9 403.8 316.5 403.7 318.0 403.2 319.5 403.1" fill="none" stroke="#1e1eff" stroke-width="1.3"/>
<path d="M46.5 396.1h0M48.0 395.6h0M49.5 395.8h0M51.1 396.5h0M52.6 396.4h0M54.1 396.3h0M55.6 395.5h0M57.1 395.2h0M58.6 395.2h0M60.2 395.5h0M61.7 394.8h0M63.2 395.0h0M64.7 394.7h0M66.2 394.6h0M67.7 394.8h0M69.2 394.4h0M70.8 394.2h0M72.3 394.3h0M73.8 394.1h0M75.3 393.6h0M76.8 394.1h0M78.3 394.2h0M79.9 393.5h0M81.4 393.6h0M82.9 394.0h0M84.4 393.1h0M85.9 392.4h0M87.4 392.8h0M89.0 392.3h0M90.5 390.8h0M92.0 390.7h0M93.5 391.2h0M95.0 390.7h0M96.5 389.1h0M98.1 388.5h0M99.6 389.0h0M101.1 388.1h0M102.6 387.5h0M104.1 387.9h0M105.6 387.9h0M107.2 386.3h0M108.7 385.5h0M110.2 384.7h0M111.7 384.8h0M113.2 383.7h0M114.8 383.4h0M116.3 383.5h0M117.8 381.4h0M119.3 379.8h0M120.8 379.6h0M122.3 377.5h0M123.9 376.2h0M125.4 375.8h0M126.9 374.8h0M128.4 373.6h0M129.9 372.7h0M131.4 370.3h0M133.0 368.5h0M134.5 368.3h0M136.0 365.8h0M137.5 363.8h0M139.0 361.5h0M140.5 360.7h0M142.0 358.9h0M143.6 356.1h0M145.1 354.3h0M146.6 351.3h0M148.1 350.5h0M149.6 349.3h0M151.1 348.6h0M152.7 345.7h0M154.2 344.9h0M155.7 343.3h0M157.2 339.4h0M158.7 339.6h0M160.2 337.9h0M161.8 336.1h0M163.3 332.8h0M164.8 329.0h0M166.3 329.4h0M167.8 326.2h0M169.3 323.1h0M170.9 317.9h0M172.4 314.7h0M173.9 311.8h0M175.4 305.9h0M176.9 301.6h0M178.4 294.7h0M180.0 290.7h0M181.5 283.7h0M183.0 280.6h0M184.5 275.4h0M186.0 272.2h0M187.6 268.5h0M189.1 264.3h0M190.6 260.9h0M192.1 255.9h0M193.6 254.2h0M195.1 251.7h0M196.7 244.7h0M198.2 245.1h0M199.7 242.5h0M201.2 237.5h0M202.7 238.3h0M204.2 237.9h0M205.7 242.3h0M207.3 249.9h0M208.8 257.6h0M210.3 270.0h0M211.8 277.5h0M213.3 287.7h0M214.8 296.6h0M216.4 306.1h0M217.9 313.1h0M219.4 320.6h0M220.9 326.6h0M222.4 334.3h0M223.9 339.9h0M225.5 343.5h0M227.0 346.0h0M228.5 351.3h0M230.0 354.7h0M231.5 358.8h0M233.0 361.5h0M234.6 362.9h0M236.1 365.1h0M237.6 367.7h0M239.1 370.0h0M240.6 371.9h0M242.1 373.5h0M243.7 376.7h0M245.2 378.0h0M246.7 378.1h0M248.2 379.5h0M249.7 380.0h0M251.2 380.3h0M252.8 380.9h0M254.3 382.3h0M255.8 383.9h0M257.3 385.2h0M258.8 386.2h0M260.4 387.0h0M261.9 387.9h0M263.4 388.0h0M264.9 387.9h0M266.4 388.8h0M267.9 389.0h0M269.5 389.6h0M271.0 391.0h0M272.5 390.8h0M274.0 390.5h0M275.5 390.4h0M277.0 391.2h0M278.5 392.1h0M280.1 392.6h0M281.6 391.5h0M283.1 391.7h0M284.6 391.8h0M286.1 392.1h0M287.6 393.4h0M289.2 393.4h0M290.7 393.6h0M292.2 393.9h0M293.7 394.4h0M295.2 394.7h0M296.7 395.1h0M298.3 395.9h0M299.8 395.8h0M301.3 395.9h0M302.8 395.7h0M304.3 395.6h0M305.8 395.4h0M307.4 395.8h0M308.9 395.9h0M310.4 395.7h0M311.9 395.8h0M313.4 396.3h0M314.9 396.9h0M316.5 396.9h0M318.0 396.5h0M319.5 396.6h0" stroke="#000" stroke-width="2.6" stroke-linecap="round"/>
<path d="M46.5 396.3 46.9 396.3 47.3 396.3 47.6 396.3 48.0 396.3 48.4 396.2 48.8 396.2 49.2 396.2 49.5 396.2 49.9 396.1 50.3 396.1 50.7 396.1 51.1 396.1 51.4 396.0 51.8 396.0 52.2 396.0 52.6 396.0 52.9 395.9 53.3 395.9 53.7 395.9 54.1 395.8 54.5 395.8 54.8 395.8 55.2 395.8 55.6 395.7 56.0 395.7 56.4 395.7 56.7 395.7 57.1 395.6 57.5 395.6 57.9 395.6 58.3 395.5 58.6 395.5 59.0 395.5 59.4 395.4 59.8 395.4 60.2 395.4 60.5 395.3 60.9 395.3 61.3 395.3 61.7 395.2 62.0 395.2 62.4 395.2 62.8 395.1 63.2 395.1 63.6 395.1 63.9 395.0 64.3 395.0 64.7 395.0 65.1 394.9 65.5 394.9 65.8 394.9 66.2 394.8 66.6 394.8 67.0 394.8 67.4 394.7 67.7 394.7 68.1 394.6 68.5 394.6 68.9 394.6 69.3 394.5 69.6 394.5 70.0 394.4 70.4 394.4 70.8 394.3 71.1 394.3 71.5 394.3 71.9 394.2 72.3 394.2 72.7 394.1 73.0 394.1 73.4 394.0 73.8 394.0 74.2 393.9 74.6 393.9 74.9 393.9 75.3 393.8 75.7 393.8 76.1 393.7 76.5 393.7 76.8 393.6 77.2 393.6 77.6 393.5 78.0 393.4 78.4 393.4 78.7 393.3 79.1 393.3 79.5 393.2 79.9 393.2 80.2 393.1 80.6 393.1 81.0 393.0 81.4 392.9 81.8 392.9 82.1 392.8 82.5 392.8 82.9 392.7 83.3 392.6 83.7 392.6 84.0 392.5 84.4 392.5 84.8 392.4 85.2 392.3 85.6 392.3 85.9 392.2 86.3 392.1 86.7 392.0 87.1 392.0 87.4 391.9 87.8 391.8 88.2 391.8 88.6 391.7 89.0 391.6 89.3 391.5 89.7 391.5 90.1 391.4 90.5 391.3 90.9 391.2 91.2 391.1 91.6 391.0 92.0 391.0 92.4 390.9 92.8 390.8 93.1 390.7 93.5 390.6 93.9 390.5 94.3 390.4 94.7 390.3 95.0 390.2 95.4 390.1 95.8 390.1 96.2 390.0 96.5 389.9 96.9 389.8 97.3 389.7 97.7 389.5 98.1 389.4 98.4 389.3 98.8 389.2 99.2 389.1 99.6 389.0 100.0 388.9 100.3 388.8 100.7 388.7 101.1 388.5 101.5 388.4 101.9 388.3 102.2 388.2 102.6 388.0 103.0 387.9 103.4 387.8 103.8 387.7 104.1 387.5 104.5 387.4 104.9 387.3 105.3 387.1 105.6 387.0 106.0 386.8 106.4 386.7 106.8 386.5 107.2 386.4 107.5 386.2 107.9 386.1 108.3 385.9 108.7 385.8 109.1 385.6 109.4 385.4 109.8 385.3 110.2 385.1 110.6 384.9 111.0 384.8 111.3 384.6 111.7 384.4 112.1 384.2 112.5 384.0 112.9 383.8 113.2 383.7 113.6 383.5 114.0 383.3 114.4 383.1 114.8 382.9 115.1 382.7 115.5 382.4 115.9 382.2 116.3 382.0 116.6 381.8 117.0 381.6 117.4 381.4 117.8 381.1 118.2 380.9 118.5 380.7 118.9 380.4 119.3 380.2 119.7 379.9 120.1 379.7 120.4 379.5 120.8 379.2 121.2 378.9 121.6 378.7 122.0 378.4 122.3 378.1 122.7 377.9 123.1 377.6 123.5 377.3 123.9 377.0 124.2 376.7 124.6 376.4 125.0 376.2 125.4 375.9 125.7 375.5 126.1 375.2 126.5 374.9 126.9 374.6 127.3 374.3 127.6 374.0 128.0 373.6 128.4 373.3 128.8 373.0 129.2 372.6 129.5 372.3 129.9 371.9 130.3 371.6 130.7 371.2 131.1 370.9 131.4 370.5 131.8 370.1 132.2 369.7 132.6 369.4 133.0 369.0 133.3 368.6 133.7 368.2 134.1 367.8 134.5 367.4 134.8 367.0 135.2 366.6 135.6 366.2 136.0 365.8 136.4 365.3 136.7 364.9 137.1 364.5 137.5 364.0 137.9 363.6 138.3 363.2 138.6 362.7 139.0 362.3 139.4 361.8 139.8 361.4 140.2 360.9 140.5 360.5 140.9 360.0 141.3 359.5 141.7 359.1 142.1 358.6 142.4 358.1 142.8 357.7 143.2 357.2 143.6 356.7 143.9 356.2 144.3 355.8 144.7 355.3 145.1 354.8 145.5 354.3 145.8 353.8 146.2 353.3 146.6 352.9 147.0 352.4 147.4 351.9 147.7 351.4 148.1 350.9 148.5 350.4 148.9 349.9 149.3 349.5 149.6 349.0 150.0 348.5 150.4 348.0 150.8 347.6 151.1 347.1 151.5 346.6 151.9 346.1 152.3 345.7 152.7 345.2 153.0 344.7 153.4 344.3 153.8 343.8 154.2 343.4 154.6 342.9 154.9 342.5 155.3 342.0 155.7 341.6 156.1 341.1 156.5 340.7 156.8 340.2 157.2 339.8 157.6 339.3 158.0 338.9 158.4 338.5 158.7 338.0 159.1 337.6 159.5 337.1 159.9 336.7 160.2 336.3 160.6 335.8 161.0 335.3 161.4 334.9 161.8 334.4 162.1 334.0 162.5 333.5 162.9 333.0 163.3 332.5 163.7 332.0 164.0 331.5 164.4 331.0 164.8 330.5 165.2 329.9 165.6 329.4 165.9 328.8 166.3 328.2 166.7 327.6 167.1 327.0 167.5 326.3 167.8 325.7 168.2 325.0 168.6 324.3 169.0 323.5 169.3 322.8 169.7 322.0 170.1 321.2 170.5 320.3 170.9 319.5 171.2 318.6 171.6 317.6 172.0 316.7 172.4 315.7 172.8 314.6 173.1 313.6 173.5 312.5 173.9 311.4 174.3 310.2 174.7 309.0 175.0 307.8 175.4 306.5 175.8 305.2 176.2 303.9 176.6 302.6 176.9 301.2 177.3 299.8 177.7 298.4 178.1 297.0 178.4 295.6 178.8 294.1 179.2 292.7 179.6 291.3 180.0 289.9 180.3 288.5 180.7 287.1 181.1 285.7 181.5 284.4 181.9 283.1 182.2 281.9 182.6 280.7 183.0 279.5 183.4 278.4 183.8 277.3 184.1 276.3 184.5 275.3 184.9 274.3 185.3 273.4 185.7 272.6 186.0 271.7 186.4 270.9 186.8 270.1 187.2 269.3 187.6 268.5 187.9 267.7 188.3 267.0 188.7 266.2 189.1 265.4 189.4 264.5 189.8 263.7 190.2 262.8 190.6 261.9 191.0 261.0 191.3 260.0 191.7 259.1 192.1 258.1 192.5 257.0 192.9 256.0 193.2 254.9 193.6 253.8 194.0 252.7 194.4 251.6 194.8 250.5 195.1 249.4 195.5 248.3 195.9 247.2 196.3 246.1 196.7 245.1 197.0 244.1 197.4 243.1 197.8 242.2 198.2 241.4 198.5 240.6 198.9 239.9 199.3 239.3 199.7 238.8 200.1 238.3 200.4 238.0 200.8 237.8 201.2 237.7 201.6 237.7 202.0 237.9 202.3 238.1 202.7 238.5 203.1 239.0 203.5 239.7 203.9 240.5 204.2 241.4 204.6 242.4 205.0 243.5 205.4 244.8 205.8 246.2 206.1 247.6 206.5 249.2 206.9 250.9 207.3 252.6 207.6 254.5 208.0 256.4 208.4 258.4 208.8 260.4 209.2 262.5 209.5 264.6 209.9 266.8 210.3 269.0 210.7 271.2 211.1 273.5 211.4 275.7 211.8 278.0 212.2 280.3 212.6 282.6 213.0 284.8 213.3 287.1 213.7 289.3 214.1 291.5 214.5 293.7 214.9 295.9 215.2 298.1 215.6 300.2 216.0 302.3 216.4 304.3 216.7 306.4 217.1 308.3 217.5 310.3 217.9 312.2 218.3 314.1 218.6 315.9 219.0 317.7 219.4 319.5 219.8 321.2 220.2 322.9 220.5 324.5 220.9 326.1 221.3 327.7 221.7 329.2 222.1 330.7 222.4 332.2 222.8 333.6 223.2 335.0 223.6 336.4 223.9 337.7 224.3 339.0 224.7 340.2 225.1 341.4 225.5 342.6 225.8 343.8 226.2 344.9 226.6 346.0 227.0 347.1 227.4 348.1 227.7 349.2 228.1 350.2 228.5 351.1 228.9 352.1 229.3 353.0 229.6 353.9 230.0 354.8 230.4 355.6 230.8 356.5 231.2 357.3 231.5 358.1 231.9 358.8 232.3 359.6 232.7 360.3 233.0 361.0 233.4 361.7 233.8 362.4 234.2 363.1 234.6 363.7 234.9 364.3 235.3 365.0 235.7 365.6 236.1 366.2 236.5 366.7 236.8 367.3 237.2 367.8 237.6 368.4 238.0 368.9 238.4 369.4 238.7 369.9 239.1 370.4 239.5 370.9 239.9 371.3 240.3 371.8 240.6 372.2 241.0 372.7 241.4 373.1 241.8 373.5 242.1 373.9 242.5 374.3 242.9 374.7 243.3 375.1 243.7 375.5 244.0 375.8 244.4 376.2 244.8 376.5 245.2 376.9 245.6 377.2 245.9 377.6 246.3 377.9 246.7 378.2 247.1 378.5 247.5 378.8 247.8 379.1 248.2 379.4 248.6 379.7 249.0 380.0 249.4 380.2 249.7 380.5 250.1 380.8 250.5 381.0 250.9 381.3 251.2 381.5 251.6 381.8 252.0 382.0 252.4 382.3 252.8 382.5 253.1 382.7 253.5 382.9 253.9 383.2 254.3 383.4 254.7 383.6 255.0 383.8 255.4 384.0 255.8 384.2 256.2 384.4 256.6 384.6 256.9 384.8 257.3 385.0 257.7 385.1 258.1 385.3 258.5 385.5 258.8 385.7 259.2 385.9 259.6 386.0 260.0 386.2 260.4 386.3 260.7 386.5 261.1 386.7 261.5 386.8 261.9 387.0 262.2 387.1 262.6 387.3 263.0 387.4 263.4 387.6 263.8 387.7 264.1 387.8 264.5 388.0 264.9 388.1 265.3 388.2 265.7 388.4 266.0 388.5 266.4 388.6 266.8 388.8 267.2 388.9 267.6 389.0 267.9 389.1 268.3 389.2 268.7 389.3 269.1 389.5 269.5 389.6 269.8 389.7 270.2 389.8 270.6 389.9 271.0 390.0 271.3 390.1 271.7 390.2 272.1 390.3 272.5 390.4 272.9 390.5 273.2 390.6 273.6 390.7 274.0 390.8 274.4 390.9 274.8 391.0 275.1 391.1 275.5 391.2 275.9 391.3 276.3 391.3 276.7 391.4 277.0 391.5 277.4 391.6 277.8 391.7 278.2 391.8 278.6 391.8 278.9 391.9 279.3 392.0 279.7 392.1 280.1 392.2 280.4 392.2 280.8 392.3 281.2 392.4 281.6 392.4 282.0 392.5 282.3 392.6 282.7 392.7 283.1 392.7 283.5 392.8 283.9 392.9 284.2 392.9 284.6 393.0 285.0 393.1 285.4 393.1 285.8 393.2 286.1 393.3 286.5 393.3 286.9 393.4 287.3 393.4 287.6 393.5 288.0 393.6 288.4 393.6 288.8 393.7 289.2 393.7 289.5 393.8 289.9 393.8 290.3 393.9 290.7 394.0 291.1 394.0 291.4 394.1 291.8 394.1 292.2 394.2 292.6 394.2 293.0 394.3 293.3 394.3 293.7 394.4 294.1 394.4 294.5 394.5 294.9 394.5 295.2 394.6 295.6 394.6 296.0 394.7 296.4 394.7 296.7 394.7 297.1 394.8 297.5 394.8 297.9 394.9 298.3 394.9 298.6 395.0 299.0 395.0 299.4 395.1 299.8 395.1 300.2 395.1 300.5 395.2 300.9 395.2 301.3 395.3 301.7 395.3 302.1 395.3 302.4 395.4 302.8 395.4 303.2 395.5 303.6 395.5 304.0 395.5 304.3 395.6 304.7 395.6 305.1 395.6 305.5 395.7 305.8 395.7 306.2 395.8 306.6 395.8 307.0 395.8 307.4 395.9 307.7 395.9 308.1 395.9 308.5 396.0 308.9 396.0 309.3 396.0 309.6 396.1 310.0 396.1 310.4 396.1 310.8 396.2 311.2 396.2 311.5 396.2 311.9 396.2 312.3 396.3 312.7 396.3 313.1 396.3 313.4 396.4 313.8 396.4 314.2 396.4 314.6 396.5 314.9 396.5 315.3 396.5 315.7 396.5 316.1 396.6 316.5 396.6 316.8 396.6 317.2 396.6 317.6 396.7 318.0 396.7 318.4 396.7 318.7 396.8 319.1 396.8 319.5 396.8" fill="none" stroke="#ff0f0f" stroke-width="1.2"/>
<path d="M47.8 398.1L48.3 398.1L48.8 398.1L49.3 398.1L49.8 398.1M50.8 398.0L51.3 398.0L51.8 398.0L52.3 398.0L52.8 397.9M53.9 397.9L54.4 397.9L54.8 397.8L55.3 397.8L55.8 397.8M56.9 397.7L57.4 397.7L57.9 397.7L58.4 397.7L58.9 397.7M59.9 397.6L60.4 397.6L60.9 397.5L61.4 397.5L61.9 397.5M63.0 397.4L63.5 397.4L63.9 397.4L64.4 397.3L64.9 397.3M66.0 397.2L66.5 397.2L67.0 397.2L67.5 397.2L68.0 397.1M69.0 397.0L69.5 397.0L70.0 397.0L70.5 396.9L71.0 396.9M72.1 396.8L72.6 396.8L73.0 396.8L73.5 396.7L74.0 396.7M75.1 396.6L75.6 396.5L76.1 396.5L76.6 396.5L77.1 396.4M78.1 396.3L78.6 396.3L79.1 396.2L79.6 396.2L80.1 396.1M81.2 396.0L81.7 396.0L82.1 395.9L82.6 395.9L83.1 395.8M84.2 395.7L84.7 395.6L85.2 395.6L85.7 395.5L86.2 395.5M87.2 395.3L87.7 395.3L88.2 395.2L88.7 395.1L89.2 395.0M90.3 394.9L90.8 394.8L91.2 394.7L91.7 394.7L92.2 394.6M93.3 394.4L93.8 394.3L94.3 394.3L94.8 394.2L95.3 394.1M96.3 393.9L96.8 393.8L97.3 393.7L97.8 393.6L98.3 393.5M99.4 393.3L99.9 393.2L100.3 393.1L100.8 393.0L101.3 392.8M102.4 392.6L102.9 392.5L103.4 392.4L103.9 392.2L104.4 392.1M105.4 391.8L105.9 391.7L106.4 391.5L106.9 391.4L107.4 391.2M108.5 390.9L109.0 390.8L109.4 390.6L109.9 390.5L110.4 390.3M111.5 389.9L112.0 389.7L112.5 389.6L113.0 389.4L113.5 389.2M114.5 388.8L115.0 388.6L115.5 388.4L116.0 388.2L116.5 388.0M117.6 387.5L118.1 387.3L118.5 387.0L119.0 386.8L119.5 386.6M120.6 386.0L121.1 385.8L121.6 385.5L122.1 385.3L122.6 385.0M123.6 384.4L124.1 384.1L124.6 383.8L125.1 383.6L125.6 383.3M126.7 382.6L127.2 382.3L127.6 382.0L128.1 381.7L128.6 381.3M129.7 380.6L130.2 380.3L130.7 379.9L131.2 379.6L131.7 379.2M132.7 378.4L133.2 378.1L133.7 377.7L134.2 377.3L134.7 376.9M135.8 376.1L136.3 375.7L136.7 375.3L137.2 374.9L137.7 374.5M138.8 373.6L139.3 373.2L139.8 372.8L140.3 372.4L140.8 372.0M141.8 371.1L142.3 370.7L142.8 370.3L143.3 369.9L143.8 369.5M144.9 368.6L145.4 368.2L145.8 367.8L146.3 367.4L146.8 367.1M147.9 366.3L148.4 365.9L148.9 365.6L149.4 365.3L149.9 364.9M150.9 364.3L151.4 364.0L151.9 363.7L152.4 363.5L152.9 363.2M154.0 362.8L154.5 362.6L154.9 362.4L155.4 362.3L155.9 362.1M157.0 361.9L157.5 361.8L158.0 361.8L158.5 361.7L159.0 361.7M160.0 361.8L160.5 361.8L161.0 361.9L161.5 362.0L162.0 362.1M163.1 362.4L163.6 362.5L164.0 362.7L164.5 362.9L165.0 363.1M166.1 363.6L166.6 363.9L167.1 364.2L167.6 364.5L168.1 364.8M169.1 365.5L169.6 365.8L170.1 366.2L170.6 366.5L171.1 366.9M172.2 367.7L172.7 368.1L173.1 368.5L173.6 368.9L174.1 369.3M175.2 370.2L175.7 370.6L176.2 371.0L176.7 371.4L177.2 371.8M178.2 372.7L178.7 373.1L179.2 373.5L179.7 373.9L180.2 374.3M181.3 375.2L181.8 375.6L182.2 376.0L182.7 376.4L183.2 376.8M184.3 377.6L184.8 378.0L185.3 378.4L185.8 378.7L186.3 379.1M187.3 379.9L187.8 380.2L188.3 380.6L188.8 380.9L189.3 381.3M190.4 382.0L190.9 382.3L191.3 382.6L191.8 382.9L192.3 383.2M193.4 383.9L193.9 384.2L194.4 384.4L194.9 384.7L195.4 385.0M196.4 385.6L196.9 385.8L197.4 386.1L197.9 386.3L198.4 386.6M199.5 387.1L200.0 387.3L200.4 387.6L200.9 387.8L201.4 388.0M202.5 388.5L203.0 388.7L203.5 388.9L204.0 389.1L204.5 389.3M205.5 389.7L206.0 389.9L206.5 390.0L207.0 390.2L207.5 390.4M208.6 390.8L209.1 390.9L209.5 391.1L210.0 391.2L210.5 391.4M211.6 391.7L212.1 391.8L212.6 392.0L213.1 392.1L213.6 392.3M214.6 392.5L215.1 392.7L215.6 392.8L216.1 392.9L216.6 393.0M217.7 393.3L218.2 393.4L218.6 393.5L219.1 393.6L219.6 393.7M220.7 393.9L221.2 394.0L221.7 394.1L222.2 394.2L222.7 394.3M223.7 394.5L224.2 394.6L224.7 394.7L225.2 394.8L225.7 394.8M226.8 395.0L227.3 395.1L227.7 395.2L228.2 395.2L228.7 395.3M229.8 395.5L230.3 395.5L230.8 395.6L231.3 395.7L231.8 395.7M232.8 395.9L233.3 395.9L233.8 396.0L234.3 396.0L234.8 396.1M235.9 396.2L236.4 396.3L236.8 396.3L237.3 396.4L237.8 396.4M238.9 396.5L239.4 396.6L239.9 396.6L240.4 396.7L240.9 396.7M241.9 396.8L242.4 396.9L242.9 396.9L243.4 397.0L243.9 397.0M245.0 397.1L245.5 397.1L245.9 397.2L246.4 397.2L246.9 397.3M248.0 397.3L248.5 397.4L249.0 397.4L249.5 397.5L250.0 397.5M251.0 397.6L251.5 397.6L252.0 397.6L252.5 397.7L253.0 397.7M254.1 397.8L254.6 397.8L255.0 397.8L255.5 397.9L256.0 397.9M257.1 398.0L257.6 398.0L258.1 398.0L258.6 398.0L259.1 398.1M260.1 398.1L260.6 398.1L261.1 398.2L261.6 398.2L262.1 398.2M263.2 398.3L263.7 398.3L264.1 398.3L264.6 398.4L265.1 398.4M266.2 398.4L266.7 398.4L267.2 398.5L267.7 398.5L268.2 398.5M269.2 398.6L269.7 398.6L270.2 398.6L270.7 398.6L271.2 398.6M272.3 398.7L272.8 398.7L273.2 398.7L273.7 398.7L274.2 398.8M275.3 398.8L275.8 398.8L276.3 398.8L276.8 398.9L277.3 398.9M278.3 398.9L278.8 398.9L279.3 398.9L279.8 399.0L280.3 399.0M281.4 399.0L281.9 399.0L282.3 399.0L282.8 399.1L283.3 399.1M284.4 399.1L284.9 399.1L285.4 399.1L285.9 399.2L286.4 399.2M287.4 399.2L287.9 399.2L288.4 399.2L288.9 399.2L289.4 399.3M290.5 399.3L291.0 399.3L291.4 399.3L291.9 399.3L292.4 399.3M293.5 399.4L294.0 399.4L294.5 399.4L295.0 399.4L295.5 399.4M296.5 399.4L297.0 399.5L297.5 399.5L298.0 399.5L298.5 399.5M299.6 399.5L300.1 399.5L300.5 399.5L301.0 399.6L301.5 399.6M302.6 399.6L303.1 399.6L303.6 399.6L304.1 399.6L304.6 399.6M305.6 399.6L306.1 399.7L306.6 399.7L307.1 399.7L307.6 399.7M308.7 399.7L309.2 399.7L309.6 399.7L310.1 399.7L310.6 399.7M311.7 399.8L312.2 399.8L312.7 399.8L313.2 399.8L313.7 399.8M314.7 399.8L315.2 399.8L315.7 399.8L316.2 399.8L316.7 399.9M317.8 399.9L318.2 399.9L318.6 399.9L319.1 399.9L319.5 399.9" fill="none" stroke="#ff8a1e" stroke-width="1.2"/>
<path d="M47.8 400.3L48.3 400.3L48.8 400.3L49.3 400.3L49.8 400.3M50.8 400.3L51.3 400.3L51.8 400.3L52.3 400.3L52.8 400.3M53.9 400.3L54.4 400.3L54.8 400.3L55.3 400.3L55.8 400.3M56.9 400.3L57.4 400.3L57.9 400.3L58.4 400.3L58.9 400.3M59.9 400.3L60.4 400.3L60.9 400.3L61.4 400.3L61.9 400.3M63.0 400.3L63.5 400.3L63.9 400.3L64.4 400.3L64.9 400.3M66.0 400.3L66.5 400.2L67.0 400.2L67.5 400.2L68.0 400.2M69.0 400.2L69.5 400.2L70.0 400.2L70.5 400.2L71.0 400.2M72.1 400.2L72.6 400.2L73.0 400.2L73.5 400.2L74.0 400.2M75.1 400.2L75.6 400.2L76.1 400.2L76.6 400.2L77.1 400.2M78.1 400.2L78.6 400.2L79.1 400.2L79.6 400.2L80.1 400.2M81.2 400.2L81.7 400.2L82.1 400.2L82.6 400.2L83.1 400.2M84.2 400.2L84.7 400.2L85.2 400.2L85.7 400.2L86.2 400.2M87.2 400.2L87.7 400.2L88.2 400.1L88.7 400.1L89.2 400.1M90.3 400.1L90.8 400.1L91.2 400.1L91.7 400.1L92.2 400.1M93.3 400.1L93.8 400.1L94.3 400.1L94.8 400.1L95.3 400.1M96.3 400.1L96.8 400.1L97.3 400.1L97.8 400.1L98.3 400.1M99.4 400.1L99.9 400.0L100.3 400.0L100.8 400.0L101.3 400.0M102.4 400.0L102.9 400.0L103.4 400.0L103.9 400.0L104.4 400.0M105.4 400.0L105.9 400.0L106.4 400.0L106.9 400.0L107.4 399.9M108.5 399.9L109.0 399.9L109.4 399.9L109.9 399.9L110.4 399.9M111.5 399.9L112.0 399.9L112.5 399.9L113.0 399.8L113.5 399.8M114.5 399.8L115.0 399.8L115.5 399.8L116.0 399.8L116.5 399.8M117.6 399.7L118.1 399.7L118.5 399.7L119.0 399.7L119.5 399.7M120.6 399.7L121.1 399.7L121.6 399.6L122.1 399.6L122.6 399.6M123.6 399.6L124.1 399.6L124.6 399.5L125.1 399.5L125.6 399.5M126.7 399.5L127.2 399.4L127.6 399.4L128.1 399.4L128.6 399.4M129.7 399.3L130.2 399.3L130.7 399.3L131.2 399.3L131.7 399.2M132.7 399.2L133.2 399.2L133.7 399.1L134.2 399.1L134.7 399.1M135.8 399.0L136.3 399.0L136.7 398.9L137.2 398.9L137.7 398.9M138.8 398.8L139.3 398.8L139.8 398.7L140.3 398.7L140.8 398.6M141.8 398.5L142.3 398.5L142.8 398.4L143.3 398.4L143.8 398.3M144.9 398.2L145.4 398.1L145.8 398.1L146.3 398.0L146.8 398.0M147.9 397.8L148.4 397.7L148.9 397.7L149.4 397.6L149.9 397.5M150.9 397.3L151.4 397.2L151.9 397.1L152.4 397.0L152.9 396.9M154.0 396.6L154.5 396.5L154.9 396.4L155.4 396.2L155.9 396.1M157.0 395.7L157.5 395.6L158.0 395.4L158.5 395.2L159.0 395.0M160.0 394.5L160.5 394.3L161.0 394.0L161.5 393.7L162.0 393.4M163.1 392.8L163.6 392.4L164.0 392.1L164.5 391.7L165.0 391.3M166.1 390.3L166.6 389.8L167.1 389.3L167.6 388.8L168.1 388.2M169.1 386.8L169.6 386.2L170.1 385.5L170.6 384.7L171.1 384.0M172.2 382.2L172.7 381.3L173.1 380.4L173.6 379.5L174.1 378.5M175.2 376.3L175.7 375.2L176.2 374.2L176.7 373.1L177.2 372.0M178.2 369.8L178.7 368.8L179.2 367.8L179.7 366.9L180.2 366.0M181.3 364.5L181.8 364.0L182.2 363.6L182.7 363.3L183.2 363.1M184.3 363.2L184.8 363.5L185.3 363.9L185.8 364.4L186.3 365.1M187.3 366.7L187.8 367.6L188.3 368.6L188.8 369.6L189.3 370.6M190.4 373.0L190.9 374.0L191.3 375.1L191.8 376.1L192.3 377.2M193.4 379.3L193.9 380.3L194.4 381.2L194.9 382.1L195.4 382.9M196.4 384.7L196.9 385.4L197.4 386.1L197.9 386.8L198.4 387.4M199.5 388.7L200.0 389.3L200.4 389.8L200.9 390.3L201.4 390.8M202.5 391.7L203.0 392.1L203.5 392.4L204.0 392.8L204.5 393.1M205.5 393.8L206.0 394.1L206.5 394.3L207.0 394.6L207.5 394.8M208.6 395.3L209.1 395.5L209.5 395.6L210.0 395.8L210.5 396.0M211.6 396.3L212.1 396.5L212.6 396.6L213.1 396.7L213.6 396.9M214.6 397.1L215.1 397.2L215.6 397.3L216.1 397.4L216.6 397.5M217.7 397.7L218.2 397.8L218.6 397.9L219.1 397.9L219.6 398.0M220.7 398.2L221.2 398.2L221.7 398.3L222.2 398.4L222.7 398.4M223.7 398.5L224.2 398.6L224.7 398.7L225.2 398.7L225.7 398.7M226.8 398.8L227.3 398.9L227.7 398.9L228.2 399.0L228.7 399.0M229.8 399.1L230.3 399.1L230.8 399.2L231.3 399.2L231.8 399.2M232.8 399.3L233.3 399.3L233.8 399.4L234.3 399.4L234.8 399.4M235.9 399.5L236.4 399.5L236.8 399.5L237.3 399.6L237.8 399.6M238.9 399.6L239.4 399.7L239.9 399.7L240.4 399.7L240.9 399.7M241.9 399.8L242.4 399.8L242.9 399.8L243.4 399.8L243.9 399.8M245.0 399.9L245.5 399.9L245.9 399.9L246.4 399.9L246.9 399.9M248.0 400.0L248.5 400.0L249.0 400.0L249.5 400.0L250.0 400.0M251.0 400.1L251.5 400.1L252.0 400.1L252.5 400.1L253.0 400.1M254.1 400.1L254.6 400.2L255.0 400.2L255.5 400.2L256.0 400.2M257.1 400.2L257.6 400.2L258.1 400.2L258.6 400.2L259.1 400.3M260.1 400.3L260.6 400.3L261.1 400.3L261.6 400.3L262.1 400.3M263.2 400.3L263.7 400.3L264.1 400.4L264.6 400.4L265.1 400.4M266.2 400.4L266.7 400.4L267.2 400.4L267.7 400.4L268.2 400.4M269.2 400.4L269.7 400.4L270.2 400.4L270.7 400.5L271.2 400.5M272.3 400.5L272.8 400.5L273.2 400.5L273.7 400.5L274.2 400.5M275.3 400.5L275.8 400.5L276.3 400.5L276.8 400.5L277.3 400.5M278.3 400.6L278.8 400.6L279.3 400.6L279.8 400.6L280.3 400.6M281.4 400.6L281.9 400.6L282.3 400.6L282.8 400.6L283.3 400.6M284.4 400.6L284.9 400.6L285.4 400.6L285.9 400.6L286.4 400.6M287.4 400.6L287.9 400.6L288.4 400.7L288.9 400.7L289.4 400.7M290.5 400.7L291.0 400.7L291.4 400.7L291.9 400.7L292.4 400.7M293.5 400.7L294.0 400.7L294.5 400.7L295.0 400.7L295.5 400.7M296.5 400.7L297.0 400.7L297.5 400.7L298.0 400.7L298.5 400.7M299.6 400.7L300.1 400.7L300.5 400.8L301.0 400.8L301.5 400.8M302.6 400.8L303.1 400.8L303.6 400.8L304.1 400.8L304.6 400.8M305.6 400.8L306.1 400.8L306.6 400.8L307.1 400.8L307.6 400.8M308.7 400.8L309.2 400.8L309.6 400.8L310.1 400.8L310.6 400.8M311.7 400.8L312.2 400.8L312.7 400.8L313.2 400.8L313.7 400.8M314.7 400.8L315.2 400.8L315.7 400.8L316.2 400.8L316.7 400.9M317.8 400.9L318.2 400.9L318.6 400.9L319.1 400.9L319.5 400.9" fill="none" stroke="#24962a" stroke-width="1.15"/>
<path d="M47.8 398.9L48.3 398.8L48.8 398.8L49.3 398.8L49.8 398.8M50.8 398.8L51.3 398.8L51.8 398.8L52.3 398.8L52.8 398.8M53.9 398.7L54.4 398.7L54.8 398.7L55.3 398.7L55.8 398.7M56.9 398.7L57.4 398.7L57.9 398.6L58.4 398.6L58.9 398.6M59.9 398.6L60.4 398.6L60.9 398.6L61.4 398.6L61.9 398.5M63.0 398.5L63.5 398.5L63.9 398.5L64.4 398.5L64.9 398.5M66.0 398.4L66.5 398.4L67.0 398.4L67.5 398.4L68.0 398.4M69.0 398.3L69.5 398.3L70.0 398.3L70.5 398.3L71.0 398.3M72.1 398.2L72.6 398.2L73.0 398.2L73.5 398.2L74.0 398.2M75.1 398.1L75.6 398.1L76.1 398.1L76.6 398.1L77.1 398.1M78.1 398.0L78.6 398.0L79.1 398.0L79.6 398.0L80.1 398.0M81.2 397.9L81.7 397.9L82.1 397.9L82.6 397.9L83.1 397.8M84.2 397.8L84.7 397.8L85.2 397.7L85.7 397.7L86.2 397.7M87.2 397.6L87.7 397.6L88.2 397.6L88.7 397.6L89.2 397.6M90.3 397.5L90.8 397.5L91.2 397.4L91.7 397.4L92.2 397.4M93.3 397.3L93.8 397.3L94.3 397.3L94.8 397.2L95.3 397.2M96.3 397.2L96.8 397.1L97.3 397.1L97.8 397.1L98.3 397.0M99.4 397.0L99.9 396.9L100.3 396.9L100.8 396.9L101.3 396.8M102.4 396.8L102.9 396.7L103.4 396.7L103.9 396.6L104.4 396.6M105.4 396.5L105.9 396.5L106.4 396.4L106.9 396.4L107.4 396.4M108.5 396.3L109.0 396.2L109.4 396.2L109.9 396.1L110.4 396.1M111.5 396.0L112.0 395.9L112.5 395.9L113.0 395.8L113.5 395.8M114.5 395.7L115.0 395.6L115.5 395.6L116.0 395.5L116.5 395.5M117.6 395.3L118.1 395.3L118.5 395.2L119.0 395.2L119.5 395.1M120.6 395.0L121.1 394.9L121.6 394.8L122.1 394.8L122.6 394.7M123.6 394.5L124.1 394.5L124.6 394.4L125.1 394.3L125.6 394.2M126.7 394.1L127.2 394.0L127.6 393.9L128.1 393.8L128.6 393.7M129.7 393.5L130.2 393.5L130.7 393.4L131.2 393.3L131.7 393.2M132.7 393.0L133.2 392.9L133.7 392.8L134.2 392.6L134.7 392.5M135.8 392.3L136.3 392.2L136.7 392.1L137.2 391.9L137.7 391.8M138.8 391.5L139.3 391.4L139.8 391.3L140.3 391.1L140.8 391.0M141.8 390.7L142.3 390.5L142.8 390.4L143.3 390.2L143.8 390.0M144.9 389.7L145.4 389.5L145.8 389.3L146.3 389.2L146.8 389.0M147.9 388.5L148.4 388.3L148.9 388.1L149.4 387.9L149.9 387.7M150.9 387.2L151.4 387.0L151.9 386.8L152.4 386.5L152.9 386.3M154.0 385.7L154.5 385.4L154.9 385.1L155.4 384.8L155.9 384.5M157.0 383.9L157.5 383.6L158.0 383.2L158.5 382.9L159.0 382.5M160.0 381.7L160.5 381.4L161.0 381.0L161.5 380.6L162.0 380.1M163.1 379.2L163.6 378.7L164.0 378.3L164.5 377.8L165.0 377.3M166.1 376.1L166.6 375.6L167.1 375.0L167.6 374.4L168.1 373.8M169.1 372.4L169.6 371.7L170.1 371.1L170.6 370.3L171.1 369.6M172.2 367.9L172.7 367.1L173.1 366.2L173.6 365.3L174.1 364.4M175.2 362.3L175.7 361.3L176.2 360.3L176.7 359.2L177.2 358.1M178.2 355.5L178.7 354.2L179.2 352.9L179.7 351.6L180.2 350.2M181.3 347.0L181.8 345.5L182.2 343.9L182.7 342.2L183.2 340.5M184.3 336.6L184.8 334.7L185.3 332.7L185.8 330.7L186.3 328.7M187.3 324.0L187.8 321.7L188.3 319.4L188.8 317.0L189.3 314.6M190.4 309.1L190.9 306.6L191.3 304.0L191.8 301.3L192.3 298.7M193.4 292.9L193.9 290.2L194.4 287.6L194.9 285.0L195.4 282.4M196.4 277.1L196.9 274.8L197.4 272.5L197.9 270.5L198.4 268.5M199.5 264.9L200.0 263.5L200.4 262.3L200.9 261.4L201.4 260.6M202.5 259.8L203.0 259.8L203.5 260.1L204.0 260.5L204.5 261.3M205.5 263.6L206.0 265.0L206.5 266.5L207.0 268.3L207.5 270.2M208.6 274.9L209.1 277.2L209.5 279.6L210.0 282.1L210.5 284.7M211.6 290.4L212.1 293.0L212.6 295.7L213.1 298.4L213.6 301.0M214.6 306.7L215.1 309.3L215.6 311.8L216.1 314.3L216.6 316.8M217.7 321.9L218.2 324.1L218.6 326.3L219.1 328.5L219.6 330.5M220.7 334.9L221.2 336.8L221.7 338.6L222.2 340.4L222.7 342.1M223.7 345.6L224.2 347.2L224.7 348.7L225.2 350.1L225.7 351.5M226.8 354.4L227.3 355.6L227.7 356.9L228.2 358.0L228.7 359.2M229.8 361.5L230.3 362.5L230.8 363.5L231.3 364.4L231.8 365.4M232.8 367.2L233.3 368.1L233.8 368.9L234.3 369.6L234.8 370.4M235.9 371.9L236.4 372.6L236.8 373.2L237.3 373.9L237.8 374.5M238.9 375.8L239.4 376.3L239.9 376.8L240.4 377.4L240.9 377.9M241.9 378.9L242.4 379.4L242.9 379.8L243.4 380.3L243.9 380.7M245.0 381.6L245.5 381.9L245.9 382.3L246.4 382.7L246.9 383.0M248.0 383.8L248.5 384.1L249.0 384.4L249.5 384.7L250.0 385.0M251.0 385.6L251.5 385.9L252.0 386.2L252.5 386.4L253.0 386.7M254.1 387.2L254.6 387.5L255.0 387.7L255.5 387.9L256.0 388.1M257.1 388.6L257.6 388.8L258.1 389.0L258.6 389.2L259.1 389.4M260.1 389.8L260.6 389.9L261.1 390.1L261.6 390.3L262.1 390.4M263.2 390.8L263.7 390.9L264.1 391.1L264.6 391.2L265.1 391.4M266.2 391.7L266.7 391.8L267.2 391.9L267.7 392.1L268.2 392.2M269.2 392.5L269.7 392.6L270.2 392.7L270.7 392.8L271.2 392.9M272.3 393.2L272.8 393.3L273.2 393.4L273.7 393.5L274.2 393.6M275.3 393.8L275.8 393.9L276.3 394.0L276.8 394.0L277.3 394.1M278.3 394.3L278.8 394.4L279.3 394.5L279.8 394.6L280.3 394.6M281.4 394.8L281.9 394.9L282.3 395.0L282.8 395.0L283.3 395.1M284.4 395.3L284.9 395.3L285.4 395.4L285.9 395.4L286.4 395.5M287.4 395.6L287.9 395.7L288.4 395.8L288.9 395.8L289.4 395.9M290.5 396.0L291.0 396.1L291.4 396.1L291.9 396.2L292.4 396.2M293.5 396.3L294.0 396.4L294.5 396.4L295.0 396.5L295.5 396.5M296.5 396.6L297.0 396.7L297.5 396.7L298.0 396.8L298.5 396.8M299.6 396.9L300.1 396.9L300.5 397.0L301.0 397.0L301.5 397.1M302.6 397.1L303.1 397.2L303.6 397.2L304.1 397.3L304.6 397.3M305.6 397.4L306.1 397.4L306.6 397.4L307.1 397.5L307.6 397.5M308.7 397.6L309.2 397.6L309.6 397.6L310.1 397.7L310.6 397.7M311.7 397.8L312.2 397.8L312.7 397.8L313.2 397.9L313.7 397.9M314.7 398.0L315.2 398.0L315.7 398.0L316.2 398.0L316.7 398.1M317.8 398.1L318.2 398.1L318.6 398.2L319.1 398.2L319.5 398.2" fill="none" stroke="#b83cf0" stroke-width="1.2"/>
</g>
<path d="M398.07 419.2v-2M398.07 228.4v2M452.81 419.2v-2M452.81 228.4v2M507.55 419.2v-2M507.55 228.4v2M562.29 419.2v-2M562.29 228.4v2M617.03 419.2v-2M617.03 228.4v2M370.7 419.2v-3.5M370.7 228.4v3.5M425.44 419.2v-3.5M425.44 228.4v3.5M480.18 419.2v-3.5M480.18 228.4v3.5M534.92 419.2v-3.5M534.92 228.4v3.5M589.66 419.2v-3.5M589.66 228.4v3.5M644.4 419.2v-3.5M644.4 228.4v3.5M370.7 398h2M644.4 398h-2M370.7 376.8h2M644.4 376.8h-2M370.7 355.6h2M644.4 355.6h-2M370.7 334.4h2M644.4 334.4h-2M370.7 313.2h2M644.4 313.2h-2M370.7 292h2M644.4 292h-2M370.7 270.8h2M644.4 270.8h-2M370.7 249.6h2M644.4 249.6h-2M370.7 408.6h3.5M644.4 408.6h-3.5M370.7 387.4h3.5M644.4 387.4h-3.5M370.7 366.2h3.5M644.4 366.2h-3.5M370.7 345h3.5M644.4 345h-3.5M370.7 323.8h3.5M644.4 323.8h-3.5M370.7 302.6h3.5M644.4 302.6h-3.5M370.7 281.4h3.5M644.4 281.4h-3.5M370.7 260.2h3.5M644.4 260.2h-3.5M370.7 239h3.5M644.4 239h-3.5" stroke="#474747" stroke-width="1.2" fill="none"/>
<rect x="370.7" y="228.4" width="273.7" height="190.8" stroke="#474747" stroke-width="1.3" fill="none"/>
<text x="370.7" y="432.1" text-anchor="middle" class="tl">11.63</text>
<text x="425.44" y="432.1" text-anchor="middle" class="tl">11.64</text>
<text x="480.18" y="432.1" text-anchor="middle" class="tl">11.65</text>
<text x="534.92" y="432.1" text-anchor="middle" class="tl">11.66</text>
<text x="589.66" y="432.1" text-anchor="middle" class="tl">11.67</text>
<text x="644.4" y="432.1" text-anchor="middle" class="tl">11.68</text>
<text x="366.5" y="412.1" text-anchor="end" class="tl">-400</text>
<text x="366.5" y="390.9" text-anchor="end" class="tl">-300</text>
<text x="366.5" y="369.7" text-anchor="end" class="tl">-200</text>
<text x="366.5" y="348.5" text-anchor="end" class="tl">-100</text>
<text x="366.5" y="327.3" text-anchor="end" class="tl">0</text>
<text x="366.5" y="306.1" text-anchor="end" class="tl">100</text>
<text x="366.5" y="284.9" text-anchor="end" class="tl">200</text>
<text x="366.5" y="263.7" text-anchor="end" class="tl">300</text>
<text x="366.5" y="242.5" text-anchor="end" class="tl">400</text>
<clipPath id="clipd"><rect x="370.7" y="228.4" width="273.7" height="190.79999999999998"/></clipPath>
<g clip-path="url(#clipd)">
<path d="M370.7 318.2V336.2M376.2 324.9V343.1M381.6 326.2V344.7M387.1 311.5V330.6M392.6 324.7V343.7M398.1 325.2V344.4M403.5 325.1V344.6M409.0 315.5V335.5M414.5 303.8V324.3M420.0 321.4V341.9M425.4 316.7V337.6M430.9 315.5V336.8M436.4 302.6V324.6M441.9 306.2V328.6M447.3 315.4V338.1M452.8 308.0V331.5M458.3 314.4V338.3M463.8 305.9V330.7M469.2 316.9V342.1M474.7 305.9V331.9M480.2 318.0V344.4M485.7 311.0V337.9M491.1 313.4V340.6M496.6 310.0V337.6M502.1 303.0V331.0M507.5 303.0V331.4M513.0 294.9V323.8M518.5 311.6V340.7M524.0 324.6V353.9M529.4 306.3V336.2M534.9 333.7V363.6M540.4 333.7V363.9M545.9 306.8V337.4M551.3 307.3V337.8M556.8 285.4V316.0M562.3 283.3V313.4M567.8 290.8V320.3M573.2 290.6V319.3M578.7 316.9V344.3M584.2 306.9V333.5M589.7 314.8V340.4M595.1 315.8V340.3M600.6 324.2V347.6M606.1 318.7V341.2M611.6 320.6V342.2M617.0 316.4V337.2M622.5 327.7V347.5M628.0 329.2V348.1M633.5 320.1V338.5M638.9 307.2V325.2M644.4 316.5V333.6" stroke="#a8d8a8" stroke-width="1" fill="none" opacity="0.9"/>
<path d="M370.7 319.6V337.7M376.2 326.2V344.3M381.6 329.6V348.1M387.1 314.9V333.9M392.6 330.2V349.2M398.1 331.8V351.0M403.5 333.1V352.6M409.0 324.2V344.2M414.5 312.7V333.2M420.0 333.7V354.2M425.4 327.8V348.7M430.9 325.4V346.7M436.4 309.8V331.8M441.9 309.0V331.4M447.3 312.2V335.0M452.8 297.6V321.1M458.3 292.5V316.5M463.8 274.5V299.3M469.2 277.3V302.5M474.7 260.1V286.1M480.2 272.9V299.2M485.7 273.5V300.4M491.1 291.1V318.3M496.6 306.8V334.4M502.1 321.0V349.1M507.5 340.1V368.5M513.0 344.8V373.6M518.5 364.8V393.9M524.0 375.7V405.0M529.4 347.2V377.1M534.9 360.4V390.3M540.4 342.2V372.4M545.9 299.2V329.8M551.3 283.9V314.5M556.8 250.8V281.4M562.3 244.7V274.9M567.8 252.0V281.5M573.2 256.4V285.2M578.7 289.1V316.5M584.2 288.0V314.7M589.7 307.0V332.6M595.1 312.8V337.4M600.6 326.9V350.4M606.1 326.7V349.3M611.6 332.5V354.1M617.0 329.5V350.3M622.5 342.1V361.9M628.0 342.5V361.5M633.5 332.6V351.0M638.9 317.8V335.8M644.4 325.2V342.3" stroke="#ffb4b4" stroke-width="1" fill="none" opacity="0.9"/>
<path d="M370.7 316.5V334.5M376.2 323.4V341.6M381.6 321.8V340.2M387.1 303.1V322.1M392.6 315.6V334.6M398.1 315.5V334.7M403.5 316.4V335.9M409.0 309.6V329.5M414.5 299.3V319.8M420.0 322.7V343.1M425.4 322.0V342.9M430.9 324.2V345.5M436.4 313.2V335.2M441.9 318.3V340.7M447.3 325.8V348.5M452.8 316.1V339.6M458.3 313.9V337.9M463.8 299.1V323.9M469.2 301.2V326.5M474.7 284.3V310.3M480.2 294.3V320.6M485.7 290.8V317.7M491.1 302.1V329.4M496.6 309.4V337.0M502.1 315.5V343.5M507.5 323.6V352.0M513.0 318.9V347.8M518.5 332.0V361.0M524.0 337.8V367.1M529.4 308.2V338.1M534.9 325.0V354.9M540.4 316.1V346.3M545.9 287.1V317.7M551.3 291.8V322.3M556.8 282.2V312.8M562.3 293.0V323.2M567.8 305.5V334.9M573.2 305.8V334.5M578.7 327.2V354.7M584.2 313.4V340.1M589.7 318.6V344.2M595.1 313.6V338.2M600.6 317.6V341.0M606.1 310.2V332.8M611.6 311.1V332.7M617.0 305.8V326.6M622.5 317.7V337.5M628.0 319.4V338.4M633.5 311.0V329.4M638.9 299.3V317.3M644.4 307.6V324.7" stroke="#b4b4ff" stroke-width="1" fill="none" opacity="0.9"/>
<path d="M370.7 323.80H644.4" stroke="#111" stroke-width="1.8"/>
<path d="M370.7 327.2 376.2 334.0 381.6 335.5 387.1 321.0 392.6 334.2 398.1 334.8 403.5 334.8 409.0 325.5 414.5 314.0 420.0 331.6 425.4 327.2 430.9 326.1 436.4 313.6 441.9 317.4 447.3 326.8 452.8 319.8 458.3 326.3 463.8 318.3 469.2 329.5 474.7 318.9 480.2 331.2 485.7 324.4 491.1 327.0 496.6 323.8 502.1 317.0 507.5 317.2 513.0 309.4 518.5 326.1 524.0 339.3 529.4 321.3 534.9 348.6 540.4 348.8 545.9 322.1 551.3 322.5 556.8 300.7 562.3 298.4 567.8 305.6 573.2 304.9 578.7 330.6 584.2 320.2 589.7 327.6 595.1 328.0 600.6 335.9 606.1 329.9 611.6 331.4 617.0 326.8 622.5 337.6 628.0 338.6 633.5 329.3 638.9 316.2 644.4 325.1" stroke="#008000" stroke-width="1.1" fill="none"/>
<rect x="368.60" y="325.09" width="4.20" height="4.20" fill="#008000"/><rect x="374.07" y="331.88" width="4.20" height="4.20" fill="#008000"/><rect x="379.55" y="333.36" width="4.20" height="4.20" fill="#008000"/><rect x="385.02" y="318.94" width="4.20" height="4.20" fill="#008000"/><rect x="390.50" y="332.09" width="4.20" height="4.20" fill="#008000"/><rect x="395.97" y="332.72" width="4.20" height="4.20" fill="#008000"/><rect x="401.44" y="332.72" width="4.20" height="4.20" fill="#008000"/><rect x="406.92" y="323.40" width="4.20" height="4.20" fill="#008000"/><rect x="412.39" y="311.95" width="4.20" height="4.20" fill="#008000"/><rect x="417.87" y="329.54" width="4.20" height="4.20" fill="#008000"/><rect x="423.34" y="325.09" width="4.20" height="4.20" fill="#008000"/><rect x="428.81" y="324.03" width="4.20" height="4.20" fill="#008000"/><rect x="434.29" y="311.52" width="4.20" height="4.20" fill="#008000"/><rect x="439.76" y="315.34" width="4.20" height="4.20" fill="#008000"/><rect x="445.24" y="324.67" width="4.20" height="4.20" fill="#008000"/><rect x="450.71" y="317.67" width="4.20" height="4.20" fill="#008000"/><rect x="456.18" y="324.24" width="4.20" height="4.20" fill="#008000"/><rect x="461.66" y="316.19" width="4.20" height="4.20" fill="#008000"/><rect x="467.13" y="327.42" width="4.20" height="4.20" fill="#008000"/><rect x="472.61" y="316.82" width="4.20" height="4.20" fill="#008000"/><rect x="478.08" y="329.12" width="4.20" height="4.20" fill="#008000"/><rect x="483.55" y="322.34" width="4.20" height="4.20" fill="#008000"/><rect x="489.03" y="324.88" width="4.20" height="4.20" fill="#008000"/><rect x="494.50" y="321.70" width="4.20" height="4.20" fill="#008000"/><rect x="499.98" y="314.92" width="4.20" height="4.20" fill="#008000"/><rect x="505.45" y="315.13" width="4.20" height="4.20" fill="#008000"/><rect x="510.92" y="307.28" width="4.20" height="4.20" fill="#008000"/><rect x="516.40" y="324.03" width="4.20" height="4.20" fill="#008000"/><rect x="521.87" y="337.18" width="4.20" height="4.20" fill="#008000"/><rect x="527.35" y="319.16" width="4.20" height="4.20" fill="#008000"/><rect x="532.82" y="346.50" width="4.20" height="4.20" fill="#008000"/><rect x="538.29" y="346.72" width="4.20" height="4.20" fill="#008000"/><rect x="543.77" y="320.00" width="4.20" height="4.20" fill="#008000"/><rect x="549.24" y="320.43" width="4.20" height="4.20" fill="#008000"/><rect x="554.72" y="298.59" width="4.20" height="4.20" fill="#008000"/><rect x="560.19" y="296.26" width="4.20" height="4.20" fill="#008000"/><rect x="565.66" y="303.47" width="4.20" height="4.20" fill="#008000"/><rect x="571.14" y="302.83" width="4.20" height="4.20" fill="#008000"/><rect x="576.61" y="328.48" width="4.20" height="4.20" fill="#008000"/><rect x="582.09" y="318.10" width="4.20" height="4.20" fill="#008000"/><rect x="587.56" y="325.52" width="4.20" height="4.20" fill="#008000"/><rect x="593.03" y="325.94" width="4.20" height="4.20" fill="#008000"/><rect x="598.51" y="333.78" width="4.20" height="4.20" fill="#008000"/><rect x="603.98" y="327.85" width="4.20" height="4.20" fill="#008000"/><rect x="609.46" y="329.33" width="4.20" height="4.20" fill="#008000"/><rect x="614.93" y="324.67" width="4.20" height="4.20" fill="#008000"/><rect x="620.40" y="335.48" width="4.20" height="4.20" fill="#008000"/><rect x="625.88" y="336.54" width="4.20" height="4.20" fill="#008000"/><rect x="631.35" y="327.21" width="4.20" height="4.20" fill="#008000"/><rect x="636.83" y="314.07" width="4.20" height="4.20" fill="#008000"/><rect x="642.30" y="322.97" width="4.20" height="4.20" fill="#008000"/>
<path d="M370.7 328.7 376.2 335.2 381.6 338.9 387.1 324.4 392.6 339.7 398.1 341.4 403.5 342.9 409.0 334.2 414.5 323.0 420.0 343.9 425.4 338.2 430.9 336.1 436.4 320.8 441.9 320.2 447.3 323.6 452.8 309.4 458.3 304.5 463.8 286.9 469.2 289.9 474.7 273.1 480.2 286.1 485.7 286.9 491.1 304.7 496.6 320.6 502.1 335.0 507.5 354.3 513.0 359.2 518.5 379.3 524.0 390.4 529.4 362.2 534.9 375.3 540.4 357.3 545.9 314.5 551.3 299.2 556.8 266.1 562.3 259.8 567.8 266.8 573.2 270.8 578.7 302.8 584.2 301.3 589.7 319.8 595.1 325.1 600.6 338.6 606.1 338.0 611.6 343.3 617.0 339.9 622.5 352.0 628.0 352.0 633.5 341.8 638.9 326.8 644.4 333.8" stroke="#ff0000" stroke-width="1.1" fill="none"/>
<circle cx="370.7" cy="328.7" r="2.30" fill="#ff0000"/><circle cx="376.2" cy="335.2" r="2.30" fill="#ff0000"/><circle cx="381.6" cy="338.9" r="2.30" fill="#ff0000"/><circle cx="387.1" cy="324.4" r="2.30" fill="#ff0000"/><circle cx="392.6" cy="339.7" r="2.30" fill="#ff0000"/><circle cx="398.1" cy="341.4" r="2.30" fill="#ff0000"/><circle cx="403.5" cy="342.9" r="2.30" fill="#ff0000"/><circle cx="409.0" cy="334.2" r="2.30" fill="#ff0000"/><circle cx="414.5" cy="323.0" r="2.30" fill="#ff0000"/><circle cx="420.0" cy="343.9" r="2.30" fill="#ff0000"/><circle cx="425.4" cy="338.2" r="2.30" fill="#ff0000"/><circle cx="430.9" cy="336.1" r="2.30" fill="#ff0000"/><circle cx="436.4" cy="320.8" r="2.30" fill="#ff0000"/><circle cx="441.9" cy="320.2" r="2.30" fill="#ff0000"/><circle cx="447.3" cy="323.6" r="2.30" fill="#ff0000"/><circle cx="452.8" cy="309.4" r="2.30" fill="#ff0000"/><circle cx="458.3" cy="304.5" r="2.30" fill="#ff0000"/><circle cx="463.8" cy="286.9" r="2.30" fill="#ff0000"/><circle cx="469.2" cy="289.9" r="2.30" fill="#ff0000"/><circle cx="474.7" cy="273.1" r="2.30" fill="#ff0000"/><circle cx="480.2" cy="286.1" r="2.30" fill="#ff0000"/><circle cx="485.7" cy="286.9" r="2.30" fill="#ff0000"/><circle cx="491.1" cy="304.7" r="2.30" fill="#ff0000"/><circle cx="496.6" cy="320.6" r="2.30" fill="#ff0000"/><circle cx="502.1" cy="335.0" r="2.30" fill="#ff0000"/><circle cx="507.5" cy="354.3" r="2.30" fill="#ff0000"/><circle cx="513.0" cy="359.2" r="2.30" fill="#ff0000"/><circle cx="518.5" cy="379.3" r="2.30" fill="#ff0000"/><circle cx="524.0" cy="390.4" r="2.30" fill="#ff0000"/><circle cx="529.4" cy="362.2" r="2.30" fill="#ff0000"/><circle cx="534.9" cy="375.3" r="2.30" fill="#ff0000"/><circle cx="540.4" cy="357.3" r="2.30" fill="#ff0000"/><circle cx="545.9" cy="314.5" r="2.30" fill="#ff0000"/><circle cx="551.3" cy="299.2" r="2.30" fill="#ff0000"/><circle cx="556.8" cy="266.1" r="2.30" fill="#ff0000"/><circle cx="562.3" cy="259.8" r="2.30" fill="#ff0000"/><circle cx="567.8" cy="266.8" r="2.30" fill="#ff0000"/><circle cx="573.2" cy="270.8" r="2.30" fill="#ff0000"/><circle cx="578.7" cy="302.8" r="2.30" fill="#ff0000"/><circle cx="584.2" cy="301.3" r="2.30" fill="#ff0000"/><circle cx="589.7" cy="319.8" r="2.30" fill="#ff0000"/><circle cx="595.1" cy="325.1" r="2.30" fill="#ff0000"/><circle cx="600.6" cy="338.6" r="2.30" fill="#ff0000"/><circle cx="606.1" cy="338.0" r="2.30" fill="#ff0000"/><circle cx="611.6" cy="343.3" r="2.30" fill="#ff0000"/><circle cx="617.0" cy="339.9" r="2.30" fill="#ff0000"/><circle cx="622.5" cy="352.0" r="2.30" fill="#ff0000"/><circle cx="628.0" cy="352.0" r="2.30" fill="#ff0000"/><circle cx="633.5" cy="341.8" r="2.30" fill="#ff0000"/><circle cx="638.9" cy="326.8" r="2.30" fill="#ff0000"/><circle cx="644.4" cy="333.8" r="2.30" fill="#ff0000"/>
<path d="M370.7 325.5 376.2 332.5 381.6 331.0 387.1 312.6 392.6 325.1 398.1 325.1 403.5 326.1 409.0 319.6 414.5 309.6 420.0 332.9 425.4 332.5 430.9 334.8 436.4 324.2 441.9 329.5 447.3 337.2 452.8 327.8 458.3 325.9 463.8 311.5 469.2 313.8 474.7 297.3 480.2 307.5 485.7 304.3 491.1 315.7 496.6 323.2 502.1 329.5 507.5 337.8 513.0 333.3 518.5 346.5 524.0 352.4 529.4 323.2 534.9 339.9 540.4 331.2 545.9 302.4 551.3 307.1 556.8 297.5 562.3 308.1 567.8 320.2 573.2 320.2 578.7 341.0 584.2 326.8 589.7 331.4 595.1 325.9 600.6 329.3 606.1 321.5 611.6 321.9 617.0 316.2 622.5 327.6 628.0 328.9 633.5 320.2 638.9 308.3 644.4 316.2" stroke="#0000ff" stroke-width="1.1" fill="none"/>
<path d="M370.7 322.20l2.90 5.00h-5.80z" fill="#0000ff"/><path d="M376.2 329.19l2.90 5.00h-5.80z" fill="#0000ff"/><path d="M381.6 327.71l2.90 5.00h-5.80z" fill="#0000ff"/><path d="M387.1 309.26l2.90 5.00h-5.80z" fill="#0000ff"/><path d="M392.6 321.77l2.90 5.00h-5.80z" fill="#0000ff"/><path d="M398.1 321.77l2.90 5.00h-5.80z" fill="#0000ff"/><path d="M403.5 322.83l2.90 5.00h-5.80z" fill="#0000ff"/><path d="M409.0 316.26l2.90 5.00h-5.80z" fill="#0000ff"/><path d="M414.5 306.30l2.90 5.00h-5.80z" fill="#0000ff"/><path d="M420.0 329.62l2.90 5.00h-5.80z" fill="#0000ff"/><path d="M425.4 329.19l2.90 5.00h-5.80z" fill="#0000ff"/><path d="M430.9 331.52l2.90 5.00h-5.80z" fill="#0000ff"/><path d="M436.4 320.92l2.90 5.00h-5.80z" fill="#0000ff"/><path d="M441.9 326.22l2.90 5.00h-5.80z" fill="#0000ff"/><path d="M447.3 333.86l2.90 5.00h-5.80z" fill="#0000ff"/><path d="M452.8 324.53l2.90 5.00h-5.80z" fill="#0000ff"/><path d="M458.3 322.62l2.90 5.00h-5.80z" fill="#0000ff"/><path d="M463.8 308.20l2.90 5.00h-5.80z" fill="#0000ff"/><path d="M469.2 310.54l2.90 5.00h-5.80z" fill="#0000ff"/><path d="M474.7 294.00l2.90 5.00h-5.80z" fill="#0000ff"/><path d="M480.2 304.18l2.90 5.00h-5.80z" fill="#0000ff"/><path d="M485.7 301.00l2.90 5.00h-5.80z" fill="#0000ff"/><path d="M491.1 312.44l2.90 5.00h-5.80z" fill="#0000ff"/><path d="M496.6 319.86l2.90 5.00h-5.80z" fill="#0000ff"/><path d="M502.1 326.22l2.90 5.00h-5.80z" fill="#0000ff"/><path d="M507.5 334.49l2.90 5.00h-5.80z" fill="#0000ff"/><path d="M513.0 330.04l2.90 5.00h-5.80z" fill="#0000ff"/><path d="M518.5 343.18l2.90 5.00h-5.80z" fill="#0000ff"/><path d="M524.0 349.12l2.90 5.00h-5.80z" fill="#0000ff"/><path d="M529.4 319.86l2.90 5.00h-5.80z" fill="#0000ff"/><path d="M534.9 336.61l2.90 5.00h-5.80z" fill="#0000ff"/><path d="M540.4 327.92l2.90 5.00h-5.80z" fill="#0000ff"/><path d="M545.9 299.09l2.90 5.00h-5.80z" fill="#0000ff"/><path d="M551.3 303.75l2.90 5.00h-5.80z" fill="#0000ff"/><path d="M556.8 294.21l2.90 5.00h-5.80z" fill="#0000ff"/><path d="M562.3 304.81l2.90 5.00h-5.80z" fill="#0000ff"/><path d="M567.8 316.90l2.90 5.00h-5.80z" fill="#0000ff"/><path d="M573.2 316.90l2.90 5.00h-5.80z" fill="#0000ff"/><path d="M578.7 337.67l2.90 5.00h-5.80z" fill="#0000ff"/><path d="M584.2 323.47l2.90 5.00h-5.80z" fill="#0000ff"/><path d="M589.7 328.13l2.90 5.00h-5.80z" fill="#0000ff"/><path d="M595.1 322.62l2.90 5.00h-5.80z" fill="#0000ff"/><path d="M600.6 326.01l2.90 5.00h-5.80z" fill="#0000ff"/><path d="M606.1 318.17l2.90 5.00h-5.80z" fill="#0000ff"/><path d="M611.6 318.59l2.90 5.00h-5.80z" fill="#0000ff"/><path d="M617.0 312.87l2.90 5.00h-5.80z" fill="#0000ff"/><path d="M622.5 324.32l2.90 5.00h-5.80z" fill="#0000ff"/><path d="M628.0 325.59l2.90 5.00h-5.80z" fill="#0000ff"/><path d="M633.5 316.90l2.90 5.00h-5.80z" fill="#0000ff"/><path d="M638.9 305.02l2.90 5.00h-5.80z" fill="#0000ff"/><path d="M644.4 312.87l2.90 5.00h-5.80z" fill="#0000ff"/>
</g>
<path d="M376.3 373.4H401.9" stroke="#008000" stroke-width="1.1"/>
<rect x="387.21" y="371.51" width="3.78" height="3.78" fill="#008000"/>
<text x="405.3" y="377.5" class="tl">3 Symm Peaks</text>
<path d="M376.3 387.4H401.9" stroke="#ff0000" stroke-width="1.1"/>
<circle cx="389.1" cy="387.4" r="2.07" fill="#ff0000"/>
<text x="405.3" y="391.5" class="tl">2 Symm Peaks</text>
<path d="M376.3 401.4H401.9" stroke="#0000ff" stroke-width="1.1"/>
<path d="M389.1 398.43l2.61 4.50h-5.22z" fill="#0000ff"/>
<text x="405.3" y="405.5" class="tl">2 Asymm Peaks</text>
<text x="183" y="223.9" text-anchor="middle" class="at">2θ (°)</text>
<text x="507.55" y="224.1" text-anchor="middle" class="at">2θ (°)</text>
<text x="183" y="451.8" text-anchor="middle" class="at">2θ (°)</text>
<text x="507.55" y="453.7" text-anchor="middle" class="at">2θ (°)</text>
<text transform="translate(11.9 97.95) rotate(-90)" text-anchor="middle" class="yl">Intensity (a.u.)</text>
<text transform="translate(336.1 97.95) rotate(-90)" text-anchor="middle" class="yl">Intensity (a.u.)</text>
<text transform="translate(11.9 323.85) rotate(-90)" text-anchor="middle" class="yl">Intensity (a.u.)</text>
<text transform="translate(336 323.5) rotate(-90)" text-anchor="middle" class="at">y<tspan class="sub" dy="3.6">obs</tspan><tspan dy="-3.6">-y</tspan><tspan class="sub" dy="3.6">calc</tspan></text>
<text x="53.8" y="21" class="pl">(a)</text>
<text x="380.7" y="21" class="pl">(b)</text>
<text x="53.6" y="249" class="pl">(c)</text>
<text x="380.7" y="249" class="pl">(d)</text>
<circle cx="93" cy="239.8" r="1.3" fill="#000"/>
<text x="112.3" y="244.2" class="lg">Obs</text>
<path d="M80.3 253.6H105.8" stroke="#ff3030" stroke-width="1.3"/>
<text x="112.6" y="257.6" class="lg">Calc</text>
<path d="M80.3 267.7H105.8" stroke="#ff9a3a" stroke-width="1.3"/>
<text x="109.2" y="271.7" class="lg">Peak1</text>
<path d="M80.3 281.8H105.8" stroke="#33a033" stroke-width="1.3"/>
<text x="109.2" y="285.8" class="lg">Peak2</text>
<path d="M80.3 295.9H105.8" stroke="#c050f0" stroke-width="1.3"/>
<text x="109.2" y="299.9" class="lg">Peak3</text>
<path d="M80.3 310.0H105.8" stroke="#3030ff" stroke-width="1.3"/>
<text x="112.6" y="314.0" class="lg">Diff</text>
<text x="233" y="18.7" class="tt" style="fill:#1a1aff">2 Asymm Peaks</text>
<rect x="242.5" y="24.5" width="67.3" height="34" fill="#fdfdfd" stroke="#b0b0b0" stroke-width="1"/>
<text x="244.5" y="36" class="rt"><tspan font-style="italic">R</tspan><tspan font-style="italic" class="sub2" dy="1.5">p</tspan><tspan dy="-1.5" dx="1.9" xml:space="preserve"> = 1.32 %</tspan></text>
<text x="244.5" y="52" class="rt"><tspan font-style="italic">R</tspan><tspan font-style="italic" class="sub2" dy="1.5">wp</tspan><tspan dy="-1.5">= 1.59 %</tspan></text>
<path d="M270.6 58.5V75.6H238.7" stroke="#222" stroke-width="1.2" fill="none"/>
<path d="M232.7 75.6l7.3 -3.6v7.2z" fill="#111"/>
<text x="562.4" y="18.7" class="tt" style="fill:#ff1a1a">2 Symm Peaks</text>
<rect x="567.2" y="24.5" width="67.4" height="34" fill="#fdfdfd" stroke="#b0b0b0" stroke-width="1"/>
<text x="569.2" y="36" class="rt"><tspan font-style="italic">R</tspan><tspan font-style="italic" class="sub2" dy="1.5">p</tspan><tspan dy="-1.5" dx="1.9" xml:space="preserve"> = 3.28 %</tspan></text>
<text x="569.2" y="52" class="rt"><tspan font-style="italic">R</tspan><tspan font-style="italic" class="sub2" dy="1.5">wp</tspan><tspan dy="-1.5">= 3.80 %</tspan></text>
<path d="M592.5 58.5V75.6H560.3" stroke="#222" stroke-width="1.2" fill="none"/>
<path d="M554.3 75.6l7.3 -3.6v7.2z" fill="#111"/>
<text x="237.8" y="244.6" class="tt" style="fill:#1f9a1f">3 Symm Peaks</text>
<rect x="242.2" y="250.4" width="68.4" height="34" fill="#fdfdfd" stroke="#b0b0b0" stroke-width="1"/>
<text x="244.2" y="261.9" class="rt"><tspan font-style="italic">R</tspan><tspan font-style="italic" class="sub2" dy="1.5">p</tspan><tspan dy="-1.5" dx="1.9" xml:space="preserve"> = 1.15 %</tspan></text>
<text x="244.2" y="277.9" class="rt"><tspan font-style="italic">R</tspan><tspan font-style="italic" class="sub2" dy="1.5">wp</tspan><tspan dy="-1.5">= 1.46 %</tspan></text>
<path d="M269.6 284.4V301.5H237.8" stroke="#222" stroke-width="1.2" fill="none"/>
<path d="M231.8 301.5l7.3 -3.6v7.2z" fill="#111"/>
</svg></body></html>
